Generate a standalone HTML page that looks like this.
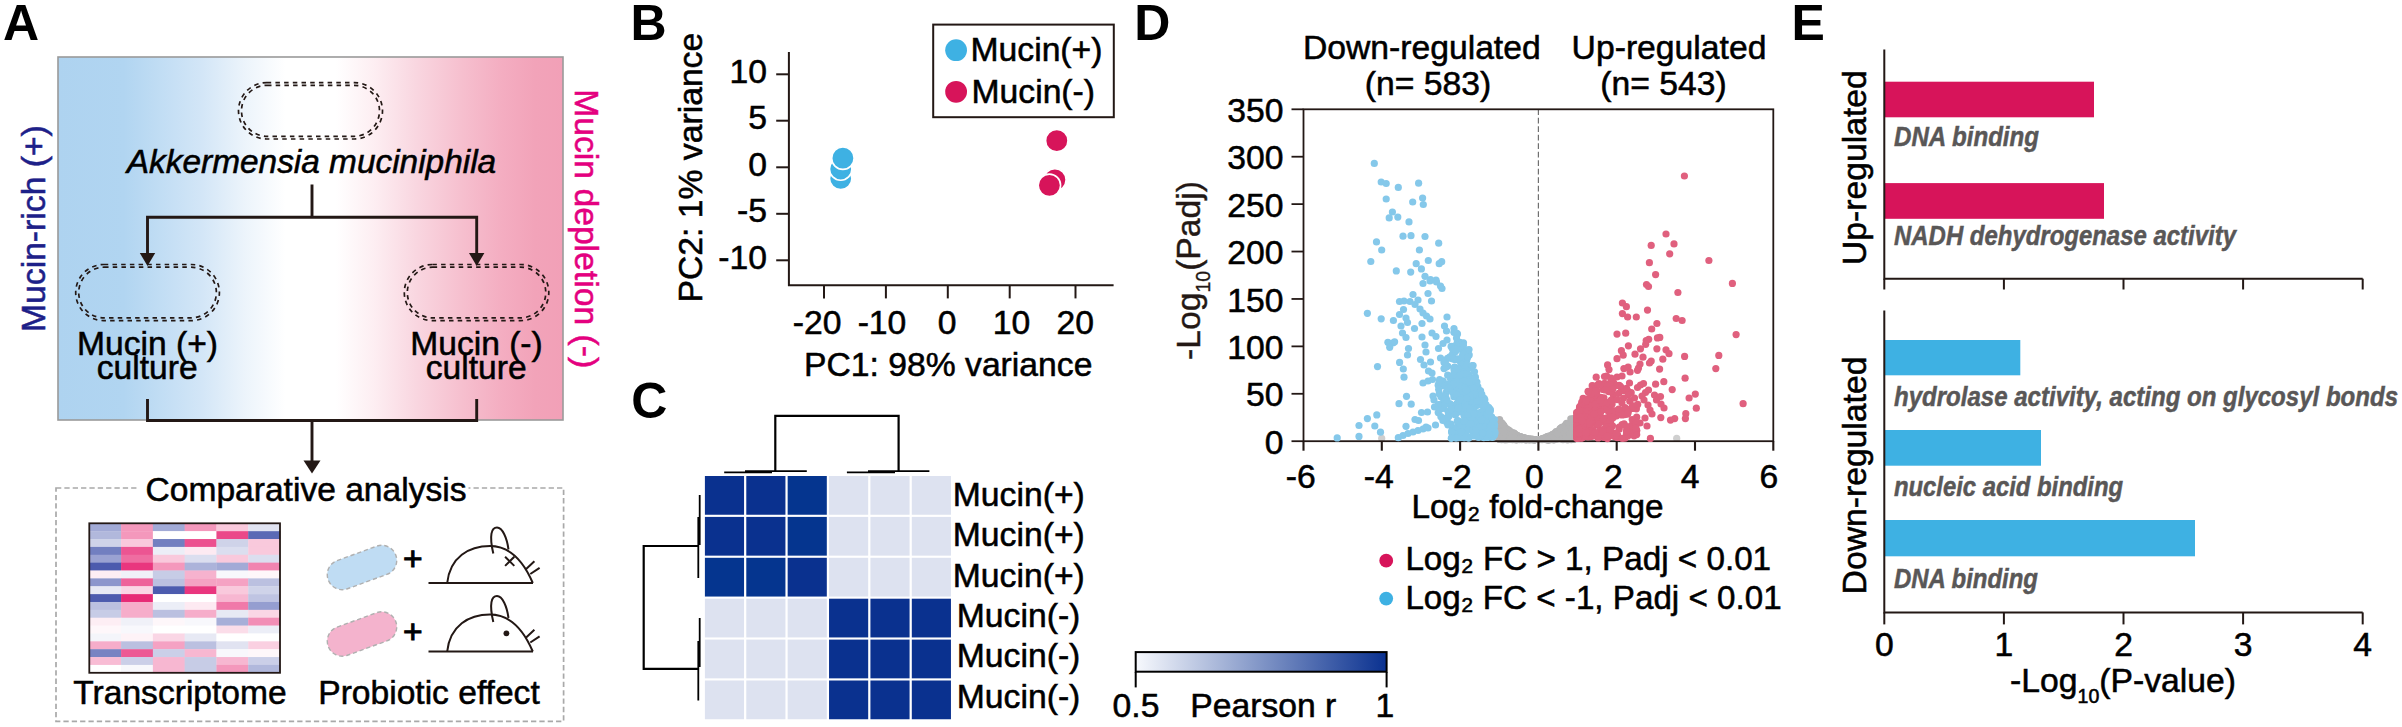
<!DOCTYPE html>
<html lang="en"><head><meta charset="utf-8"><title>Figure</title>
<style>
html,body{margin:0;padding:0;background:#fff;}
body{width:2402px;height:727px;overflow:hidden;}
svg{display:block;font-family:"Liberation Sans", sans-serif;}
</style></head><body>
<svg width="2402" height="727" viewBox="0 0 2402 727">
<defs>
<linearGradient id="gA" x1="0" x2="1" y1="0" y2="0">
<stop offset="0" stop-color="#aed3f0"/><stop offset="0.13" stop-color="#b1d5f1"/>
<stop offset="0.285" stop-color="#d3e6f7"/><stop offset="0.37" stop-color="#ecf4fb"/>
<stop offset="0.45" stop-color="#ffffff"/><stop offset="0.55" stop-color="#ffffff"/>
<stop offset="0.626" stop-color="#fdeef2"/><stop offset="0.71" stop-color="#f9d6e0"/>
<stop offset="0.797" stop-color="#f6c0cf"/><stop offset="0.88" stop-color="#f4adc1"/>
<stop offset="0.945" stop-color="#f2a3b9"/><stop offset="1" stop-color="#f2a0b7"/>
</linearGradient>
<linearGradient id="gC" x1="0" x2="1" y1="0" y2="0">
<stop offset="0" stop-color="#f7f9fd"/><stop offset="1" stop-color="#0a3190"/>
</linearGradient>
</defs>
<g id="panelA">
<text x="3" y="40.2" font-size="50" fill="#000" font-weight="bold">A</text>
<rect x="58" y="57" width="505" height="363" fill="url(#gA)" stroke="#9a9a9a" stroke-width="1.6"/>
<text x="45" y="332" font-size="33.7" fill="#1d2088" stroke="#1d2088" stroke-width="0.55" transform="rotate(-90 45 332)">Mucin-rich (+)</text>
<text x="575.2" y="89.2" font-size="33.7" fill="#e4007f" stroke="#e4007f" stroke-width="0.55" transform="rotate(90 575.2 89.2)">Mucin depletion (-)</text>
<path d="M266.7,82.6 H354.3 A28.200000000000003,28.200000000000003 0 0 1 354.3,139 H266.7 A28.200000000000003,28.200000000000003 0 0 1 266.7,82.6 Z" stroke="#231815" stroke-width="1.7" fill="none" stroke-dasharray="4.5 4.2"/>
<path d="M267.0,85.3 H354.0 A25.500000000000007,25.500000000000007 0 0 1 354.0,136.3 H267.0 A25.500000000000007,25.500000000000007 0 0 1 267.0,85.3 Z" stroke="#231815" stroke-width="1.7" fill="none" stroke-dasharray="4.5 4.2"/>
<path d="M103.75000000000001,264.5 H191.35 A28.05000000000001,28.05000000000001 0 0 1 191.35,320.6 H103.75000000000001 A28.05000000000001,28.05000000000001 0 0 1 103.75000000000001,264.5 Z" stroke="#231815" stroke-width="1.7" fill="none" stroke-dasharray="4.5 4.2"/>
<path d="M104.05000000000003,267.2 H191.04999999999998 A25.350000000000023,25.350000000000023 0 0 1 191.04999999999998,317.90000000000003 H104.05000000000003 A25.350000000000023,25.350000000000023 0 0 1 104.05000000000003,267.2 Z" stroke="#231815" stroke-width="1.7" fill="none" stroke-dasharray="4.5 4.2"/>
<path d="M432.35,264.5 H520.75 A28.05000000000001,28.05000000000001 0 0 1 520.75,320.6 H432.35 A28.05000000000001,28.05000000000001 0 0 1 432.35,264.5 Z" stroke="#231815" stroke-width="1.7" fill="none" stroke-dasharray="4.5 4.2"/>
<path d="M432.65000000000003,267.2 H520.4499999999999 A25.350000000000023,25.350000000000023 0 0 1 520.4499999999999,317.90000000000003 H432.65000000000003 A25.350000000000023,25.350000000000023 0 0 1 432.65000000000003,267.2 Z" stroke="#231815" stroke-width="1.7" fill="none" stroke-dasharray="4.5 4.2"/>
<text x="311.5" y="172.5" font-size="33.4" fill="#000" stroke="#000" stroke-width="0.55" text-anchor="middle" font-style="italic">Akkermensia muciniphila</text>
<path d="M312,184.5 V217.2 M147.5,254 V217.2 H476.7 V254" stroke="#231815" stroke-width="2.9" fill="none" />
<path d="M139.8,253 H155.2 L147.5,266 Z" fill="#231815"/>
<path d="M469,253 H484.4 L476.7,266 Z" fill="#231815"/>
<text x="147.5" y="354.7" font-size="33.6" fill="#000" stroke="#000" stroke-width="0.55" text-anchor="middle">Mucin (+)</text>
<text x="147.2" y="379.2" font-size="33.6" fill="#000" stroke="#000" stroke-width="0.55" text-anchor="middle">culture</text>
<text x="476.5" y="354.7" font-size="33.6" fill="#000" stroke="#000" stroke-width="0.55" text-anchor="middle">Mucin (-)</text>
<text x="476.2" y="379.2" font-size="33.6" fill="#000" stroke="#000" stroke-width="0.55" text-anchor="middle">culture</text>
<path d="M147.5,399 V420.5 H476.7 V399 M312,420.5 V462" stroke="#231815" stroke-width="2.9" fill="none" />
<path d="M303.5,460.5 H320.5 L312,473.5 Z" fill="#231815"/>
<rect x="56" y="488" width="507.6" height="233.3" fill="none" stroke="#a9a9a9" stroke-width="1.7" stroke-dasharray="5.3 3.05"/>
<rect x="137.5" y="480" width="331" height="16" fill="#fff"/>
<text x="306" y="501" font-size="33.6" fill="#000" stroke="#000" stroke-width="0.55" text-anchor="middle">Comparative analysis</text>
<rect x="89.30" y="523.30" width="32.08" height="8.17" fill="#a2aad6"/>
<rect x="121.08" y="523.30" width="32.08" height="8.17" fill="#f498bc"/>
<rect x="152.87" y="523.30" width="32.08" height="8.17" fill="#a2aad6"/>
<rect x="184.65" y="523.30" width="32.08" height="8.17" fill="#f498bc"/>
<rect x="216.43" y="523.30" width="32.08" height="8.17" fill="#f9c9dc"/>
<rect x="248.22" y="523.30" width="32.08" height="8.17" fill="#e1e3f1"/>
<rect x="89.30" y="531.17" width="32.08" height="8.17" fill="#b1b8dc"/>
<rect x="121.08" y="531.17" width="32.08" height="8.17" fill="#f498bc"/>
<rect x="152.87" y="531.17" width="32.08" height="8.17" fill="#ffffff"/>
<rect x="184.65" y="531.17" width="32.08" height="8.17" fill="#ffffff"/>
<rect x="216.43" y="531.17" width="32.08" height="8.17" fill="#eb4889"/>
<rect x="248.22" y="531.17" width="32.08" height="8.17" fill="#5b69b5"/>
<rect x="89.30" y="539.04" width="32.08" height="8.17" fill="#cfd3e9"/>
<rect x="121.08" y="539.04" width="32.08" height="8.17" fill="#f9c9dc"/>
<rect x="152.87" y="539.04" width="32.08" height="8.17" fill="#727fc0"/>
<rect x="184.65" y="539.04" width="32.08" height="8.17" fill="#ec508f"/>
<rect x="216.43" y="539.04" width="32.08" height="8.17" fill="#cfd3e9"/>
<rect x="248.22" y="539.04" width="32.08" height="8.17" fill="#f9c9dc"/>
<rect x="89.30" y="546.91" width="32.08" height="8.17" fill="#727fc0"/>
<rect x="121.08" y="546.91" width="32.08" height="8.17" fill="#ec5592"/>
<rect x="152.87" y="546.91" width="32.08" height="8.17" fill="#eceef7"/>
<rect x="184.65" y="546.91" width="32.08" height="8.17" fill="#fdeaf2"/>
<rect x="216.43" y="546.91" width="32.08" height="8.17" fill="#dbdeef"/>
<rect x="248.22" y="546.91" width="32.08" height="8.17" fill="#f9c9dc"/>
<rect x="89.30" y="554.77" width="32.08" height="8.17" fill="#9aa2d2"/>
<rect x="121.08" y="554.77" width="32.08" height="8.17" fill="#ef6da1"/>
<rect x="152.87" y="554.77" width="32.08" height="8.17" fill="#f9c9dc"/>
<rect x="184.65" y="554.77" width="32.08" height="8.17" fill="#dbdeef"/>
<rect x="216.43" y="554.77" width="32.08" height="8.17" fill="#f9c9dc"/>
<rect x="248.22" y="554.77" width="32.08" height="8.17" fill="#dbdeef"/>
<rect x="89.30" y="562.64" width="32.08" height="8.17" fill="#4c5bae"/>
<rect x="121.08" y="562.64" width="32.08" height="8.17" fill="#e9367e"/>
<rect x="152.87" y="562.64" width="32.08" height="8.17" fill="#f498bc"/>
<rect x="184.65" y="562.64" width="32.08" height="8.17" fill="#acb3da"/>
<rect x="216.43" y="562.64" width="32.08" height="8.17" fill="#a2aad6"/>
<rect x="248.22" y="562.64" width="32.08" height="8.17" fill="#f184b0"/>
<rect x="89.30" y="570.51" width="32.08" height="8.17" fill="#fdeef4"/>
<rect x="121.08" y="570.51" width="32.08" height="8.17" fill="#f0f1f8"/>
<rect x="152.87" y="570.51" width="32.08" height="8.17" fill="#c7cce6"/>
<rect x="184.65" y="570.51" width="32.08" height="8.17" fill="#f6b2ce"/>
<rect x="216.43" y="570.51" width="32.08" height="8.17" fill="#f8f8fc"/>
<rect x="248.22" y="570.51" width="32.08" height="8.17" fill="#fef7fa"/>
<rect x="89.30" y="578.38" width="32.08" height="8.17" fill="#8c96cc"/>
<rect x="121.08" y="578.38" width="32.08" height="8.17" fill="#ee629a"/>
<rect x="152.87" y="578.38" width="32.08" height="8.17" fill="#bbc0e0"/>
<rect x="184.65" y="578.38" width="32.08" height="8.17" fill="#f5a2c3"/>
<rect x="216.43" y="578.38" width="32.08" height="8.17" fill="#f5a2c3"/>
<rect x="248.22" y="578.38" width="32.08" height="8.17" fill="#bbc0e0"/>
<rect x="89.30" y="586.25" width="32.08" height="8.17" fill="#e7e9f4"/>
<rect x="121.08" y="586.25" width="32.08" height="8.17" fill="#fad6e5"/>
<rect x="152.87" y="586.25" width="32.08" height="8.17" fill="#4c5bae"/>
<rect x="184.65" y="586.25" width="32.08" height="8.17" fill="#e9367e"/>
<rect x="216.43" y="586.25" width="32.08" height="8.17" fill="#f9c9dc"/>
<rect x="248.22" y="586.25" width="32.08" height="8.17" fill="#cfd3e9"/>
<rect x="89.30" y="594.12" width="32.08" height="8.17" fill="#4c5bae"/>
<rect x="121.08" y="594.12" width="32.08" height="8.17" fill="#e72a76"/>
<rect x="152.87" y="594.12" width="32.08" height="8.17" fill="#ffffff"/>
<rect x="184.65" y="594.12" width="32.08" height="8.17" fill="#ffffff"/>
<rect x="216.43" y="594.12" width="32.08" height="8.17" fill="#f7b7d1"/>
<rect x="248.22" y="594.12" width="32.08" height="8.17" fill="#bfc4e2"/>
<rect x="89.30" y="601.98" width="32.08" height="8.17" fill="#bbc0e0"/>
<rect x="121.08" y="601.98" width="32.08" height="8.17" fill="#f6adca"/>
<rect x="152.87" y="601.98" width="32.08" height="8.17" fill="#eceef7"/>
<rect x="184.65" y="601.98" width="32.08" height="8.17" fill="#fdeaf2"/>
<rect x="216.43" y="601.98" width="32.08" height="8.17" fill="#f079a9"/>
<rect x="248.22" y="601.98" width="32.08" height="8.17" fill="#959ed0"/>
<rect x="89.30" y="609.85" width="32.08" height="8.17" fill="#c7cce6"/>
<rect x="121.08" y="609.85" width="32.08" height="8.17" fill="#f6adca"/>
<rect x="152.87" y="609.85" width="32.08" height="8.17" fill="#bbc0e0"/>
<rect x="184.65" y="609.85" width="32.08" height="8.17" fill="#f6adca"/>
<rect x="216.43" y="609.85" width="32.08" height="8.17" fill="#e7e9f4"/>
<rect x="248.22" y="609.85" width="32.08" height="8.17" fill="#fad6e5"/>
<rect x="89.30" y="617.72" width="32.08" height="8.17" fill="#fdeef4"/>
<rect x="121.08" y="617.72" width="32.08" height="8.17" fill="#f0f1f8"/>
<rect x="152.87" y="617.72" width="32.08" height="8.17" fill="#fef7fa"/>
<rect x="184.65" y="617.72" width="32.08" height="8.17" fill="#f8f8fc"/>
<rect x="216.43" y="617.72" width="32.08" height="8.17" fill="#a7afd8"/>
<rect x="248.22" y="617.72" width="32.08" height="8.17" fill="#f28eb6"/>
<rect x="89.30" y="625.59" width="32.08" height="8.17" fill="#fef7fa"/>
<rect x="121.08" y="625.59" width="32.08" height="8.17" fill="#f8f8fc"/>
<rect x="152.87" y="625.59" width="32.08" height="8.17" fill="#ffffff"/>
<rect x="184.65" y="625.59" width="32.08" height="8.17" fill="#ffffff"/>
<rect x="216.43" y="625.59" width="32.08" height="8.17" fill="#fbdde9"/>
<rect x="248.22" y="625.59" width="32.08" height="8.17" fill="#eceef7"/>
<rect x="89.30" y="633.46" width="32.08" height="8.17" fill="#f4f5fa"/>
<rect x="121.08" y="633.46" width="32.08" height="8.17" fill="#fef3f7"/>
<rect x="152.87" y="633.46" width="32.08" height="8.17" fill="#fad6e5"/>
<rect x="184.65" y="633.46" width="32.08" height="8.17" fill="#e7e9f4"/>
<rect x="216.43" y="633.46" width="32.08" height="8.17" fill="#ffffff"/>
<rect x="248.22" y="633.46" width="32.08" height="8.17" fill="#ffffff"/>
<rect x="89.30" y="641.33" width="32.08" height="8.17" fill="#f6adca"/>
<rect x="121.08" y="641.33" width="32.08" height="8.17" fill="#bbc0e0"/>
<rect x="152.87" y="641.33" width="32.08" height="8.17" fill="#f5a2c3"/>
<rect x="184.65" y="641.33" width="32.08" height="8.17" fill="#bbc0e0"/>
<rect x="216.43" y="641.33" width="32.08" height="8.17" fill="#e1e3f1"/>
<rect x="248.22" y="641.33" width="32.08" height="8.17" fill="#fad0e1"/>
<rect x="89.30" y="649.19" width="32.08" height="8.17" fill="#7883c2"/>
<rect x="121.08" y="649.19" width="32.08" height="8.17" fill="#ed5994"/>
<rect x="152.87" y="649.19" width="32.08" height="8.17" fill="#cbcfe8"/>
<rect x="184.65" y="649.19" width="32.08" height="8.17" fill="#f7b7d1"/>
<rect x="216.43" y="649.19" width="32.08" height="8.17" fill="#f8f8fc"/>
<rect x="248.22" y="649.19" width="32.08" height="8.17" fill="#fef7fa"/>
<rect x="89.30" y="657.06" width="32.08" height="8.17" fill="#f8bcd4"/>
<rect x="121.08" y="657.06" width="32.08" height="8.17" fill="#cbcfe8"/>
<rect x="152.87" y="657.06" width="32.08" height="8.17" fill="#f7b7d1"/>
<rect x="184.65" y="657.06" width="32.08" height="8.17" fill="#c7cce6"/>
<rect x="216.43" y="657.06" width="32.08" height="8.17" fill="#f7b7d1"/>
<rect x="248.22" y="657.06" width="32.08" height="8.17" fill="#cbcfe8"/>
<rect x="89.30" y="664.93" width="32.08" height="8.17" fill="#ffffff"/>
<rect x="121.08" y="664.93" width="32.08" height="8.17" fill="#f8f8fc"/>
<rect x="152.87" y="664.93" width="32.08" height="8.17" fill="#f7b7d1"/>
<rect x="184.65" y="664.93" width="32.08" height="8.17" fill="#c7cce6"/>
<rect x="216.43" y="664.93" width="32.08" height="8.17" fill="#f498bc"/>
<rect x="248.22" y="664.93" width="32.08" height="8.17" fill="#b1b8dc"/>
<rect x="89.3" y="523.3" width="190.70" height="149.50" fill="none" stroke="#231815" stroke-width="1.8"/>
<text x="180" y="704.3" font-size="33.6" fill="#000" stroke="#000" stroke-width="0.55" text-anchor="middle">Transcriptome</text>
<text x="429" y="704.3" font-size="33.6" fill="#000" stroke="#000" stroke-width="0.55" text-anchor="middle">Probiotic effect</text>
<g transform="translate(362 567.5) rotate(-20)"><path d="M-21.0,-15 H21.0 A15.0,15.0 0 0 1 21.0,15 H-21.0 A15.0,15.0 0 0 1 -21.0,-15 Z" fill="#bfdcf3" stroke="#b0b0b0" stroke-width="1.4" stroke-dasharray="4.3 2.8"/></g>
<g transform="translate(362 634) rotate(-20)"><path d="M-21.0,-15 H21.0 A15.0,15.0 0 0 1 21.0,15 H-21.0 A15.0,15.0 0 0 1 -21.0,-15 Z" fill="#f4b3cd" stroke="#b0b0b0" stroke-width="1.4" stroke-dasharray="4.3 2.8"/></g>
<text x="412.9" y="570.2" font-size="33.6" fill="#000" stroke="#000" stroke-width="1.0" text-anchor="middle">+</text>
<text x="412.9" y="643" font-size="33.6" fill="#000" stroke="#000" stroke-width="1.0" text-anchor="middle">+</text>
<g transform="translate(429 583)" fill="none" stroke="#231815" stroke-width="2" stroke-linecap="butt"><path d="M-0.5,0 H104"/><path d="M18.2,0 C21,-26 40,-37 61,-37 C80,-37 94,-23 103.8,0"/><path d="M64.3,-29.5 C60,-48 62.5,-55.5 68,-55.5 C73.5,-55.5 78,-45 79.5,-33.5"/><path d="M96.6,-13.5 L105.4,-21.7 M101.3,-9 L110.6,-15.2"/><path d="M76.1,-26.3 L85.3,-17.1 M85.3,-26.3 L76.1,-17.1"/></g>
<g transform="translate(429 651.5)" fill="none" stroke="#231815" stroke-width="2" stroke-linecap="butt"><path d="M-0.5,0 H104"/><path d="M18.2,0 C21,-26 40,-37 61,-37 C80,-37 94,-23 103.8,0"/><path d="M64.3,-29.5 C60,-48 62.5,-55.5 68,-55.5 C73.5,-55.5 78,-45 79.5,-33.5"/><path d="M96.6,-13.5 L105.4,-21.7 M101.3,-9 L110.6,-15.2"/><circle cx="77.4" cy="-18.2" r="2.9" fill="#231815" stroke="none"/></g>
</g>
<g id="panelB">
<text x="630.5" y="40" font-size="50" fill="#000" font-weight="bold">B</text>
<path d="M788.9,52 V285.2 H1113.6" stroke="#231815" stroke-width="2" fill="none" />
<line x1="776.2" y1="74.3" x2="789" y2="74.3" stroke="#231815" stroke-width="2" />
<text x="767" y="82.6" font-size="33.7" fill="#000" stroke="#000" stroke-width="0.55" text-anchor="end">10</text>
<line x1="776.2" y1="120.7" x2="789" y2="120.7" stroke="#231815" stroke-width="2" />
<text x="767" y="129.0" font-size="33.7" fill="#000" stroke="#000" stroke-width="0.55" text-anchor="end">5</text>
<line x1="776.2" y1="167.3" x2="789" y2="167.3" stroke="#231815" stroke-width="2" />
<text x="767" y="175.60000000000002" font-size="33.7" fill="#000" stroke="#000" stroke-width="0.55" text-anchor="end">0</text>
<line x1="776.2" y1="213.8" x2="789" y2="213.8" stroke="#231815" stroke-width="2" />
<text x="767" y="222.10000000000002" font-size="33.7" fill="#000" stroke="#000" stroke-width="0.55" text-anchor="end">-5</text>
<line x1="776.2" y1="260.3" x2="789" y2="260.3" stroke="#231815" stroke-width="2" />
<text x="767" y="268.6" font-size="33.7" fill="#000" stroke="#000" stroke-width="0.55" text-anchor="end">-10</text>
<line x1="824" y1="285.2" x2="824" y2="298.4" stroke="#231815" stroke-width="2" />
<text x="817.2" y="333.7" font-size="33.7" fill="#000" stroke="#000" stroke-width="0.55" text-anchor="middle">-20</text>
<line x1="885.9" y1="285.2" x2="885.9" y2="298.4" stroke="#231815" stroke-width="2" />
<text x="882" y="333.7" font-size="33.7" fill="#000" stroke="#000" stroke-width="0.55" text-anchor="middle">-10</text>
<line x1="947.8" y1="285.2" x2="947.8" y2="298.4" stroke="#231815" stroke-width="2" />
<text x="947" y="333.7" font-size="33.7" fill="#000" stroke="#000" stroke-width="0.55" text-anchor="middle">0</text>
<line x1="1009.7" y1="285.2" x2="1009.7" y2="298.4" stroke="#231815" stroke-width="2" />
<text x="1011.4" y="333.7" font-size="33.7" fill="#000" stroke="#000" stroke-width="0.55" text-anchor="middle">10</text>
<line x1="1075.5" y1="285.2" x2="1075.5" y2="298.4" stroke="#231815" stroke-width="2" />
<text x="1075.2" y="333.7" font-size="33.7" fill="#000" stroke="#000" stroke-width="0.55" text-anchor="middle">20</text>
<text x="948.2" y="375.7" font-size="33.7" fill="#000" stroke="#000" stroke-width="0.55" text-anchor="middle">PC1: 98% variance</text>
<text x="701.8" y="167.6" font-size="33.7" fill="#000" stroke="#000" stroke-width="0.55" text-anchor="middle" transform="rotate(-90 701.8 167.6)">PC2: 1% variance</text>
<circle cx="840.7" cy="178.4" r="11.2" fill="#3eb1e3" stroke="#fff" stroke-width="1.6"/>
<circle cx="840.7" cy="169" r="11.2" fill="#3eb1e3" stroke="#fff" stroke-width="1.6"/>
<circle cx="842.9" cy="158.2" r="11.2" fill="#3eb1e3" stroke="#fff" stroke-width="1.6"/>
<circle cx="1054.9" cy="179.8" r="11.2" fill="#d7145a" stroke="#fff" stroke-width="1.6"/>
<circle cx="1049.4" cy="185.3" r="11.2" fill="#d7145a" stroke="#fff" stroke-width="1.6"/>
<circle cx="1056.8" cy="140.7" r="11.2" fill="#d7145a" stroke="#fff" stroke-width="1.6"/>
<rect x="933.2" y="24.6" width="180.6" height="92.6" fill="#fff" stroke="#231815" stroke-width="2"/>
<circle cx="956.1" cy="50.2" r="10.9" fill="#3eb1e3"/>
<circle cx="956.1" cy="91.8" r="10.9" fill="#d7145a"/>
<text x="970.5" y="60.5" font-size="33.7" fill="#000" stroke="#000" stroke-width="0.55">Mucin(+)</text>
<text x="971.5" y="102.5" font-size="33.7" fill="#000" stroke="#000" stroke-width="0.55">Mucin(-)</text>
</g>
<g id="panelC">
<text x="631.3" y="418.2" font-size="50" fill="#000" font-weight="bold">C</text>
<rect x="704.90" y="476.00" width="39.15" height="38.75" fill="#0a318f"/>
<rect x="746.28" y="476.00" width="39.15" height="38.75" fill="#0a318f"/>
<rect x="787.66" y="476.00" width="39.15" height="38.75" fill="#05358f"/>
<rect x="829.04" y="476.00" width="39.15" height="38.75" fill="#dde2f0"/>
<rect x="870.42" y="476.00" width="39.15" height="38.75" fill="#dde2f0"/>
<rect x="911.80" y="476.00" width="39.15" height="38.75" fill="#dde2f0"/>
<rect x="704.90" y="516.90" width="39.15" height="38.75" fill="#0a318f"/>
<rect x="746.28" y="516.90" width="39.15" height="38.75" fill="#0a318f"/>
<rect x="787.66" y="516.90" width="39.15" height="38.75" fill="#05358f"/>
<rect x="829.04" y="516.90" width="39.15" height="38.75" fill="#dde2f0"/>
<rect x="870.42" y="516.90" width="39.15" height="38.75" fill="#dde2f0"/>
<rect x="911.80" y="516.90" width="39.15" height="38.75" fill="#dde2f0"/>
<rect x="704.90" y="557.80" width="39.15" height="38.75" fill="#05358f"/>
<rect x="746.28" y="557.80" width="39.15" height="38.75" fill="#05358f"/>
<rect x="787.66" y="557.80" width="39.15" height="38.75" fill="#0a318f"/>
<rect x="829.04" y="557.80" width="39.15" height="38.75" fill="#dde2f0"/>
<rect x="870.42" y="557.80" width="39.15" height="38.75" fill="#dde2f0"/>
<rect x="911.80" y="557.80" width="39.15" height="38.75" fill="#dde2f0"/>
<rect x="704.90" y="598.70" width="39.15" height="38.75" fill="#dde2f0"/>
<rect x="746.28" y="598.70" width="39.15" height="38.75" fill="#dde2f0"/>
<rect x="787.66" y="598.70" width="39.15" height="38.75" fill="#dde2f0"/>
<rect x="829.04" y="598.70" width="39.15" height="38.75" fill="#0a318f"/>
<rect x="870.42" y="598.70" width="39.15" height="38.75" fill="#0a318f"/>
<rect x="911.80" y="598.70" width="39.15" height="38.75" fill="#0a318f"/>
<rect x="704.90" y="639.60" width="39.15" height="38.75" fill="#dde2f0"/>
<rect x="746.28" y="639.60" width="39.15" height="38.75" fill="#dde2f0"/>
<rect x="787.66" y="639.60" width="39.15" height="38.75" fill="#dde2f0"/>
<rect x="829.04" y="639.60" width="39.15" height="38.75" fill="#0a318f"/>
<rect x="870.42" y="639.60" width="39.15" height="38.75" fill="#0a318f"/>
<rect x="911.80" y="639.60" width="39.15" height="38.75" fill="#0a318f"/>
<rect x="704.90" y="680.50" width="39.15" height="38.75" fill="#dde2f0"/>
<rect x="746.28" y="680.50" width="39.15" height="38.75" fill="#dde2f0"/>
<rect x="787.66" y="680.50" width="39.15" height="38.75" fill="#dde2f0"/>
<rect x="829.04" y="680.50" width="39.15" height="38.75" fill="#0a318f"/>
<rect x="870.42" y="680.50" width="39.15" height="38.75" fill="#0a318f"/>
<rect x="911.80" y="680.50" width="39.15" height="38.75" fill="#0a318f"/>
<text x="952.8" y="505.6" font-size="33.7" fill="#000" stroke="#000" stroke-width="0.55">Mucin(+)</text>
<text x="952.8" y="546.0500000000001" font-size="33.7" fill="#000" stroke="#000" stroke-width="0.55">Mucin(+)</text>
<text x="952.8" y="586.5" font-size="33.7" fill="#000" stroke="#000" stroke-width="0.55">Mucin(+)</text>
<text x="956.8" y="626.95" font-size="33.7" fill="#000" stroke="#000" stroke-width="0.55">Mucin(-)</text>
<text x="956.8" y="667.4000000000001" font-size="33.7" fill="#000" stroke="#000" stroke-width="0.55">Mucin(-)</text>
<text x="956.8" y="707.85" font-size="33.7" fill="#000" stroke="#000" stroke-width="0.55">Mucin(-)</text>
<path d="M775.3,471 V415.9 H898.6 V471" stroke="#000" stroke-width="2.2" fill="none" />
<path d="M724.2,472.4 H772 M745,471.1 H806.8" stroke="#000" stroke-width="1.8" fill="none" />
<path d="M846.9,472.4 H895 M868,471.1 H929.4" stroke="#000" stroke-width="1.8" fill="none" />
<path d="M699,546 H643.7 V668.8 H699" stroke="#000" stroke-width="2.2" fill="none" />
<path d="M699.7,495 V545 M698.3,517 V578" stroke="#000" stroke-width="1.8" fill="none" />
<path d="M699.7,618 V667 M698.3,641 V700.5" stroke="#000" stroke-width="1.8" fill="none" />
<rect x="1135.7" y="652.1" width="250.9" height="19.6" fill="url(#gC)" stroke="#000" stroke-width="2"/>
<line x1="1135.7" y1="672" x2="1135.7" y2="687.4" stroke="#000" stroke-width="2" />
<line x1="1386.6" y1="672" x2="1386.6" y2="687.4" stroke="#000" stroke-width="2" />
<text x="1136" y="717.4" font-size="33.7" fill="#000" stroke="#000" stroke-width="0.55" text-anchor="middle">0.5</text>
<text x="1263.3" y="717.4" font-size="33.7" fill="#000" stroke="#000" stroke-width="0.55" text-anchor="middle">Pearson r</text>
<text x="1384.8" y="717.4" font-size="33.7" fill="#000" stroke="#000" stroke-width="0.55" text-anchor="middle">1</text>
</g>
<g id="panelD">
<text x="1134.3" y="40" font-size="50" fill="#000" font-weight="bold">D</text>
<text x="1421.8" y="58.6" font-size="33.7" fill="#000" stroke="#000" stroke-width="0.55" text-anchor="middle">Down-regulated</text>
<text x="1428" y="94.7" font-size="33.7" fill="#000" stroke="#000" stroke-width="0.55" text-anchor="middle">(n= 583)</text>
<text x="1669" y="58.6" font-size="33.7" fill="#000" stroke="#000" stroke-width="0.55" text-anchor="middle">Up-regulated</text>
<text x="1663.5" y="94.7" font-size="33.7" fill="#000" stroke="#000" stroke-width="0.55" text-anchor="middle">(n= 543)</text>
<g>
<circle cx="1509.7" cy="439.2" r="3.6" fill="#b4b4b5"/>
<circle cx="1511.2" cy="436.8" r="3.6" fill="#b4b4b5"/>
<circle cx="1511.1" cy="437.1" r="3.6" fill="#b4b4b5"/>
<circle cx="1548.1" cy="437.5" r="3.6" fill="#b4b4b5"/>
<circle cx="1503.2" cy="435.5" r="3.6" fill="#b4b4b5"/>
<circle cx="1499.3" cy="439.2" r="3.6" fill="#b4b4b5"/>
<circle cx="1565.6" cy="427.5" r="3.6" fill="#b4b4b5"/>
<circle cx="1510.6" cy="431.6" r="3.6" fill="#b4b4b5"/>
<circle cx="1520.3" cy="436.7" r="3.6" fill="#b4b4b5"/>
<circle cx="1513.2" cy="438.9" r="3.6" fill="#b4b4b5"/>
<circle cx="1566.2" cy="432.7" r="3.6" fill="#b4b4b5"/>
<circle cx="1561.5" cy="431.8" r="3.6" fill="#b4b4b5"/>
<circle cx="1573.8" cy="436.9" r="3.6" fill="#b4b4b5"/>
<circle cx="1557.2" cy="433.3" r="3.6" fill="#b4b4b5"/>
<circle cx="1529.2" cy="439.6" r="3.6" fill="#b4b4b5"/>
<circle cx="1502.4" cy="430.3" r="3.6" fill="#b4b4b5"/>
<circle cx="1570.8" cy="418.9" r="3.6" fill="#b4b4b5"/>
<circle cx="1500.9" cy="431.0" r="3.6" fill="#b4b4b5"/>
<circle cx="1559.8" cy="430.0" r="3.6" fill="#b4b4b5"/>
<circle cx="1569.3" cy="427.0" r="3.6" fill="#b4b4b5"/>
<circle cx="1516.8" cy="439.7" r="3.6" fill="#b4b4b5"/>
<circle cx="1549.4" cy="437.0" r="3.6" fill="#b4b4b5"/>
<circle cx="1530.0" cy="439.7" r="3.6" fill="#b4b4b5"/>
<circle cx="1509.7" cy="435.2" r="3.6" fill="#b4b4b5"/>
<circle cx="1505.1" cy="428.1" r="3.6" fill="#b4b4b5"/>
<circle cx="1549.3" cy="437.7" r="3.6" fill="#b4b4b5"/>
<circle cx="1519.2" cy="439.7" r="3.6" fill="#b4b4b5"/>
<circle cx="1556.8" cy="438.9" r="3.6" fill="#b4b4b5"/>
<circle cx="1514.7" cy="439.1" r="3.6" fill="#b4b4b5"/>
<circle cx="1548.4" cy="439.8" r="3.6" fill="#b4b4b5"/>
<circle cx="1519.6" cy="439.2" r="3.6" fill="#b4b4b5"/>
<circle cx="1518.2" cy="436.3" r="3.6" fill="#b4b4b5"/>
<circle cx="1509.1" cy="432.9" r="3.6" fill="#b4b4b5"/>
<circle cx="1559.0" cy="434.8" r="3.6" fill="#b4b4b5"/>
<circle cx="1562.2" cy="435.2" r="3.6" fill="#b4b4b5"/>
<circle cx="1552.3" cy="435.2" r="3.6" fill="#b4b4b5"/>
<circle cx="1570.2" cy="426.0" r="3.6" fill="#b4b4b5"/>
<circle cx="1504.9" cy="439.1" r="3.6" fill="#b4b4b5"/>
<circle cx="1500.0" cy="437.9" r="3.6" fill="#b4b4b5"/>
<circle cx="1560.5" cy="430.0" r="3.6" fill="#b4b4b5"/>
<circle cx="1499.7" cy="425.8" r="3.6" fill="#b4b4b5"/>
<circle cx="1555.2" cy="438.6" r="3.6" fill="#b4b4b5"/>
<circle cx="1556.5" cy="433.1" r="3.6" fill="#b4b4b5"/>
<circle cx="1546.5" cy="437.6" r="3.6" fill="#b4b4b5"/>
<circle cx="1570.9" cy="433.0" r="3.6" fill="#b4b4b5"/>
<circle cx="1500.7" cy="425.8" r="3.6" fill="#b4b4b5"/>
<circle cx="1519.2" cy="438.1" r="3.6" fill="#b4b4b5"/>
<circle cx="1523.2" cy="438.5" r="3.6" fill="#b4b4b5"/>
<circle cx="1550.0" cy="437.3" r="3.6" fill="#b4b4b5"/>
<circle cx="1573.5" cy="433.5" r="3.6" fill="#b4b4b5"/>
<circle cx="1564.8" cy="427.7" r="3.6" fill="#b4b4b5"/>
<circle cx="1534.1" cy="439.8" r="3.6" fill="#b4b4b5"/>
<circle cx="1573.2" cy="418.8" r="3.6" fill="#b4b4b5"/>
<circle cx="1562.2" cy="436.9" r="3.6" fill="#b4b4b5"/>
<circle cx="1498.9" cy="421.2" r="3.6" fill="#b4b4b5"/>
<circle cx="1568.4" cy="438.3" r="3.6" fill="#b4b4b5"/>
<circle cx="1567.7" cy="436.7" r="3.6" fill="#b4b4b5"/>
<circle cx="1558.4" cy="437.1" r="3.6" fill="#b4b4b5"/>
<circle cx="1571.3" cy="429.1" r="3.6" fill="#b4b4b5"/>
<circle cx="1571.1" cy="432.2" r="3.6" fill="#b4b4b5"/>
<circle cx="1559.3" cy="436.0" r="3.6" fill="#b4b4b5"/>
<circle cx="1547.3" cy="438.8" r="3.6" fill="#b4b4b5"/>
<circle cx="1571.5" cy="435.0" r="3.6" fill="#b4b4b5"/>
<circle cx="1505.1" cy="434.6" r="3.6" fill="#b4b4b5"/>
<circle cx="1502.6" cy="424.6" r="3.6" fill="#b4b4b5"/>
<circle cx="1543.5" cy="439.1" r="3.6" fill="#b4b4b5"/>
<circle cx="1520.8" cy="439.0" r="3.6" fill="#b4b4b5"/>
<circle cx="1508.2" cy="439.1" r="3.6" fill="#b4b4b5"/>
<circle cx="1535.0" cy="439.6" r="3.6" fill="#b4b4b5"/>
<circle cx="1553.2" cy="434.8" r="3.6" fill="#b4b4b5"/>
<circle cx="1566.6" cy="431.6" r="3.6" fill="#b4b4b5"/>
<circle cx="1557.6" cy="437.1" r="3.6" fill="#b4b4b5"/>
<circle cx="1513.5" cy="438.7" r="3.6" fill="#b4b4b5"/>
<circle cx="1571.5" cy="428.4" r="3.6" fill="#b4b4b5"/>
<circle cx="1557.3" cy="432.3" r="3.6" fill="#b4b4b5"/>
<circle cx="1502.6" cy="437.6" r="3.6" fill="#b4b4b5"/>
<circle cx="1572.9" cy="425.7" r="3.6" fill="#b4b4b5"/>
<circle cx="1512.9" cy="435.0" r="3.6" fill="#b4b4b5"/>
<circle cx="1514.1" cy="437.7" r="3.6" fill="#b4b4b5"/>
<circle cx="1517.5" cy="439.2" r="3.6" fill="#b4b4b5"/>
<circle cx="1561.4" cy="429.0" r="3.6" fill="#b4b4b5"/>
<circle cx="1501.7" cy="422.8" r="3.6" fill="#b4b4b5"/>
<circle cx="1564.5" cy="430.7" r="3.6" fill="#b4b4b5"/>
<circle cx="1542.4" cy="438.6" r="3.6" fill="#b4b4b5"/>
<circle cx="1533.2" cy="439.7" r="3.6" fill="#b4b4b5"/>
<circle cx="1525.0" cy="438.1" r="3.6" fill="#b4b4b5"/>
<circle cx="1561.2" cy="436.0" r="3.6" fill="#b4b4b5"/>
<circle cx="1570.0" cy="439.1" r="3.6" fill="#b4b4b5"/>
<circle cx="1553.0" cy="436.9" r="3.6" fill="#b4b4b5"/>
<circle cx="1535.1" cy="439.7" r="3.6" fill="#b4b4b5"/>
<circle cx="1552.2" cy="436.0" r="3.6" fill="#b4b4b5"/>
<circle cx="1506.0" cy="434.3" r="3.6" fill="#b4b4b5"/>
<circle cx="1568.8" cy="429.7" r="3.6" fill="#b4b4b5"/>
<circle cx="1572.0" cy="421.3" r="3.6" fill="#b4b4b5"/>
<circle cx="1568.1" cy="424.9" r="3.6" fill="#b4b4b5"/>
<circle cx="1507.9" cy="439.0" r="3.6" fill="#b4b4b5"/>
<circle cx="1509.4" cy="438.8" r="3.6" fill="#b4b4b5"/>
<circle cx="1572.8" cy="429.8" r="3.6" fill="#b4b4b5"/>
<circle cx="1553.2" cy="438.3" r="3.6" fill="#b4b4b5"/>
<circle cx="1566.2" cy="435.9" r="3.6" fill="#b4b4b5"/>
<circle cx="1501.1" cy="439.5" r="3.6" fill="#b4b4b5"/>
<circle cx="1563.6" cy="437.4" r="3.6" fill="#b4b4b5"/>
<circle cx="1500.9" cy="437.5" r="3.6" fill="#b4b4b5"/>
<circle cx="1528.4" cy="439.4" r="3.6" fill="#b4b4b5"/>
<circle cx="1569.1" cy="431.3" r="3.6" fill="#b4b4b5"/>
<circle cx="1503.2" cy="424.9" r="3.6" fill="#b4b4b5"/>
<circle cx="1551.9" cy="436.5" r="3.6" fill="#b4b4b5"/>
<circle cx="1550.5" cy="436.2" r="3.6" fill="#b4b4b5"/>
<circle cx="1568.1" cy="437.4" r="3.6" fill="#b4b4b5"/>
<circle cx="1572.8" cy="430.3" r="3.6" fill="#b4b4b5"/>
<circle cx="1547.6" cy="437.3" r="3.6" fill="#b4b4b5"/>
<circle cx="1556.4" cy="437.8" r="3.6" fill="#b4b4b5"/>
<circle cx="1563.2" cy="438.1" r="3.6" fill="#b4b4b5"/>
<circle cx="1557.1" cy="434.8" r="3.6" fill="#b4b4b5"/>
<circle cx="1571.9" cy="424.4" r="3.6" fill="#b4b4b5"/>
<circle cx="1573.3" cy="430.9" r="3.6" fill="#b4b4b5"/>
<circle cx="1553.1" cy="437.2" r="3.6" fill="#b4b4b5"/>
<circle cx="1565.3" cy="425.0" r="3.6" fill="#b4b4b5"/>
<circle cx="1563.1" cy="432.8" r="3.6" fill="#b4b4b5"/>
<circle cx="1564.3" cy="433.4" r="3.6" fill="#b4b4b5"/>
<circle cx="1546.4" cy="438.6" r="3.6" fill="#b4b4b5"/>
<circle cx="1499.8" cy="438.5" r="3.6" fill="#b4b4b5"/>
<circle cx="1512.2" cy="433.3" r="3.6" fill="#b4b4b5"/>
<circle cx="1503.1" cy="438.4" r="3.6" fill="#b4b4b5"/>
<circle cx="1517.4" cy="436.5" r="3.6" fill="#b4b4b5"/>
<circle cx="1572.4" cy="422.3" r="3.6" fill="#b4b4b5"/>
<circle cx="1542.8" cy="438.6" r="3.6" fill="#b4b4b5"/>
<circle cx="1506.3" cy="432.0" r="3.6" fill="#b4b4b5"/>
<circle cx="1508.0" cy="430.6" r="3.6" fill="#b4b4b5"/>
<circle cx="1549.6" cy="438.0" r="3.6" fill="#b4b4b5"/>
<circle cx="1522.2" cy="438.7" r="3.6" fill="#b4b4b5"/>
<circle cx="1515.3" cy="436.8" r="3.6" fill="#b4b4b5"/>
<circle cx="1551.3" cy="436.0" r="3.6" fill="#b4b4b5"/>
<circle cx="1566.1" cy="433.2" r="3.6" fill="#b4b4b5"/>
<circle cx="1565.5" cy="438.0" r="3.6" fill="#b4b4b5"/>
<circle cx="1504.9" cy="437.5" r="3.6" fill="#b4b4b5"/>
<circle cx="1557.2" cy="434.1" r="3.6" fill="#b4b4b5"/>
<circle cx="1553.8" cy="439.8" r="3.6" fill="#b4b4b5"/>
<circle cx="1550.1" cy="436.7" r="3.6" fill="#b4b4b5"/>
<circle cx="1555.3" cy="433.0" r="3.6" fill="#b4b4b5"/>
<circle cx="1560.5" cy="437.8" r="3.6" fill="#b4b4b5"/>
<circle cx="1514.4" cy="438.1" r="3.6" fill="#b4b4b5"/>
<circle cx="1522.1" cy="439.1" r="3.6" fill="#b4b4b5"/>
<circle cx="1573.3" cy="421.6" r="3.6" fill="#b4b4b5"/>
<circle cx="1568.9" cy="431.6" r="3.6" fill="#b4b4b5"/>
<circle cx="1552.6" cy="434.4" r="3.6" fill="#b4b4b5"/>
<circle cx="1531.9" cy="439.6" r="3.6" fill="#b4b4b5"/>
<circle cx="1564.4" cy="428.2" r="3.6" fill="#b4b4b5"/>
<circle cx="1521.9" cy="439.4" r="3.6" fill="#b4b4b5"/>
<circle cx="1572.4" cy="421.4" r="3.6" fill="#b4b4b5"/>
<circle cx="1500.0" cy="430.5" r="3.6" fill="#b4b4b5"/>
<circle cx="1557.6" cy="435.4" r="3.6" fill="#b4b4b5"/>
<circle cx="1560.7" cy="435.8" r="3.6" fill="#b4b4b5"/>
<circle cx="1505.9" cy="438.1" r="3.6" fill="#b4b4b5"/>
<circle cx="1512.8" cy="438.2" r="3.6" fill="#b4b4b5"/>
<circle cx="1522.3" cy="437.8" r="3.6" fill="#b4b4b5"/>
<circle cx="1542.0" cy="439.7" r="3.6" fill="#b4b4b5"/>
<circle cx="1567.7" cy="437.8" r="3.6" fill="#b4b4b5"/>
<circle cx="1560.0" cy="436.0" r="3.6" fill="#b4b4b5"/>
<circle cx="1573.6" cy="436.3" r="3.6" fill="#b4b4b5"/>
<circle cx="1500.9" cy="435.7" r="3.6" fill="#b4b4b5"/>
<circle cx="1570.1" cy="429.3" r="3.6" fill="#b4b4b5"/>
<circle cx="1571.5" cy="434.4" r="3.6" fill="#b4b4b5"/>
<circle cx="1569.0" cy="429.8" r="3.6" fill="#b4b4b5"/>
<circle cx="1546.7" cy="438.0" r="3.6" fill="#b4b4b5"/>
<circle cx="1535.2" cy="439.6" r="3.6" fill="#b4b4b5"/>
<circle cx="1565.8" cy="428.6" r="3.6" fill="#b4b4b5"/>
<circle cx="1566.8" cy="429.8" r="3.6" fill="#b4b4b5"/>
<circle cx="1564.4" cy="433.9" r="3.6" fill="#b4b4b5"/>
<circle cx="1498.9" cy="433.4" r="3.6" fill="#b4b4b5"/>
<circle cx="1569.0" cy="439.5" r="3.6" fill="#b4b4b5"/>
<circle cx="1508.2" cy="437.5" r="3.6" fill="#b4b4b5"/>
<circle cx="1514.5" cy="433.9" r="3.6" fill="#b4b4b5"/>
<circle cx="1515.3" cy="434.8" r="3.6" fill="#b4b4b5"/>
<circle cx="1501.0" cy="432.5" r="3.6" fill="#b4b4b5"/>
<circle cx="1573.3" cy="431.8" r="3.6" fill="#b4b4b5"/>
<circle cx="1566.1" cy="437.2" r="3.6" fill="#b4b4b5"/>
<circle cx="1508.6" cy="437.7" r="3.6" fill="#b4b4b5"/>
<circle cx="1500.4" cy="424.6" r="3.6" fill="#b4b4b5"/>
<circle cx="1523.5" cy="438.8" r="3.6" fill="#b4b4b5"/>
<circle cx="1545.9" cy="439.7" r="3.6" fill="#b4b4b5"/>
<circle cx="1510.6" cy="436.7" r="3.6" fill="#b4b4b5"/>
<circle cx="1518.6" cy="438.7" r="3.6" fill="#b4b4b5"/>
<circle cx="1556.1" cy="437.8" r="3.6" fill="#b4b4b5"/>
<circle cx="1534.6" cy="439.6" r="3.6" fill="#b4b4b5"/>
<circle cx="1524.2" cy="439.4" r="3.6" fill="#b4b4b5"/>
<circle cx="1501.2" cy="435.9" r="3.6" fill="#b4b4b5"/>
<circle cx="1499.1" cy="438.9" r="3.6" fill="#b4b4b5"/>
<circle cx="1501.0" cy="430.4" r="3.6" fill="#b4b4b5"/>
<circle cx="1499.5" cy="425.8" r="3.6" fill="#b4b4b5"/>
<circle cx="1572.7" cy="434.8" r="3.6" fill="#b4b4b5"/>
<circle cx="1499.4" cy="436.7" r="3.6" fill="#b4b4b5"/>
<circle cx="1549.2" cy="438.5" r="3.6" fill="#b4b4b5"/>
<circle cx="1521.9" cy="437.3" r="3.6" fill="#b4b4b5"/>
<circle cx="1549.7" cy="437.7" r="3.6" fill="#b4b4b5"/>
<circle cx="1561.4" cy="431.6" r="3.6" fill="#b4b4b5"/>
<circle cx="1560.4" cy="437.7" r="3.6" fill="#b4b4b5"/>
<circle cx="1573.9" cy="438.9" r="3.6" fill="#b4b4b5"/>
<circle cx="1554.5" cy="433.6" r="3.6" fill="#b4b4b5"/>
<circle cx="1569.5" cy="433.6" r="3.6" fill="#b4b4b5"/>
<circle cx="1519.1" cy="438.9" r="3.6" fill="#b4b4b5"/>
<circle cx="1565.0" cy="435.1" r="3.6" fill="#b4b4b5"/>
<circle cx="1552.6" cy="435.7" r="3.6" fill="#b4b4b5"/>
<circle cx="1572.2" cy="437.7" r="3.6" fill="#b4b4b5"/>
<circle cx="1529.9" cy="439.3" r="3.6" fill="#b4b4b5"/>
<circle cx="1507.9" cy="430.5" r="3.6" fill="#b4b4b5"/>
<circle cx="1546.8" cy="437.0" r="3.6" fill="#b4b4b5"/>
<circle cx="1564.0" cy="435.4" r="3.6" fill="#b4b4b5"/>
<circle cx="1512.1" cy="434.0" r="3.6" fill="#b4b4b5"/>
<circle cx="1504.8" cy="437.8" r="3.6" fill="#b4b4b5"/>
<circle cx="1526.1" cy="439.6" r="3.6" fill="#b4b4b5"/>
<circle cx="1569.1" cy="425.9" r="3.6" fill="#b4b4b5"/>
<circle cx="1519.6" cy="439.3" r="3.6" fill="#b4b4b5"/>
<circle cx="1507.1" cy="439.7" r="3.6" fill="#b4b4b5"/>
<circle cx="1510.0" cy="437.8" r="3.6" fill="#b4b4b5"/>
<circle cx="1560.6" cy="433.3" r="3.6" fill="#b4b4b5"/>
<circle cx="1501.7" cy="423.7" r="3.6" fill="#b4b4b5"/>
<circle cx="1509.6" cy="435.5" r="3.6" fill="#b4b4b5"/>
<circle cx="1556.7" cy="438.1" r="3.6" fill="#b4b4b5"/>
<circle cx="1521.5" cy="439.0" r="3.6" fill="#b4b4b5"/>
<circle cx="1517.9" cy="438.9" r="3.6" fill="#b4b4b5"/>
<circle cx="1556.1" cy="433.0" r="3.6" fill="#b4b4b5"/>
<circle cx="1505.3" cy="431.9" r="3.6" fill="#b4b4b5"/>
<circle cx="1505.7" cy="434.8" r="3.6" fill="#b4b4b5"/>
<circle cx="1572.7" cy="438.3" r="3.6" fill="#b4b4b5"/>
<circle cx="1503.4" cy="429.6" r="3.6" fill="#b4b4b5"/>
<circle cx="1514.6" cy="439.5" r="3.6" fill="#b4b4b5"/>
<circle cx="1554.9" cy="435.5" r="3.6" fill="#b4b4b5"/>
<circle cx="1515.8" cy="436.9" r="3.6" fill="#b4b4b5"/>
<circle cx="1522.3" cy="438.8" r="3.6" fill="#b4b4b5"/>
<circle cx="1563.7" cy="437.9" r="3.6" fill="#b4b4b5"/>
<circle cx="1552.1" cy="438.7" r="3.6" fill="#b4b4b5"/>
<circle cx="1556.1" cy="431.6" r="3.6" fill="#b4b4b5"/>
<circle cx="1563.8" cy="434.6" r="3.6" fill="#b4b4b5"/>
<circle cx="1566.4" cy="437.1" r="3.6" fill="#b4b4b5"/>
<circle cx="1510.1" cy="438.2" r="3.6" fill="#b4b4b5"/>
<circle cx="1528.4" cy="439.6" r="3.6" fill="#b4b4b5"/>
<circle cx="1547.5" cy="438.7" r="3.6" fill="#b4b4b5"/>
<circle cx="1504.8" cy="435.4" r="3.6" fill="#b4b4b5"/>
<circle cx="1521.2" cy="439.2" r="3.6" fill="#b4b4b5"/>
<circle cx="1569.0" cy="429.6" r="3.6" fill="#b4b4b5"/>
<circle cx="1499.6" cy="434.2" r="3.6" fill="#b4b4b5"/>
<circle cx="1510.3" cy="437.7" r="3.6" fill="#b4b4b5"/>
<circle cx="1572.2" cy="428.8" r="3.6" fill="#b4b4b5"/>
<circle cx="1566.8" cy="437.8" r="3.6" fill="#b4b4b5"/>
<circle cx="1570.5" cy="437.9" r="3.6" fill="#b4b4b5"/>
<circle cx="1566.2" cy="433.1" r="3.6" fill="#b4b4b5"/>
<circle cx="1569.8" cy="429.7" r="3.6" fill="#b4b4b5"/>
<circle cx="1524.7" cy="439.4" r="3.6" fill="#b4b4b5"/>
<circle cx="1559.1" cy="431.6" r="3.6" fill="#b4b4b5"/>
<circle cx="1513.7" cy="435.4" r="3.6" fill="#b4b4b5"/>
<circle cx="1545.9" cy="438.0" r="3.6" fill="#b4b4b5"/>
<circle cx="1507.3" cy="437.6" r="3.6" fill="#b4b4b5"/>
<circle cx="1529.8" cy="439.4" r="3.6" fill="#b4b4b5"/>
<circle cx="1572.1" cy="419.8" r="3.6" fill="#b4b4b5"/>
<circle cx="1522.8" cy="438.0" r="3.6" fill="#b4b4b5"/>
<circle cx="1505.5" cy="435.0" r="3.6" fill="#b4b4b5"/>
<circle cx="1522.8" cy="438.2" r="3.6" fill="#b4b4b5"/>
<circle cx="1504.5" cy="430.5" r="3.6" fill="#b4b4b5"/>
<circle cx="1570.2" cy="430.7" r="3.6" fill="#b4b4b5"/>
<circle cx="1501.4" cy="438.5" r="3.6" fill="#b4b4b5"/>
<circle cx="1510.0" cy="439.5" r="3.6" fill="#b4b4b5"/>
<circle cx="1521.2" cy="437.1" r="3.6" fill="#b4b4b5"/>
<circle cx="1569.8" cy="429.0" r="3.6" fill="#b4b4b5"/>
<circle cx="1563.1" cy="431.1" r="3.6" fill="#b4b4b5"/>
<circle cx="1566.6" cy="428.2" r="3.6" fill="#b4b4b5"/>
<circle cx="1512.2" cy="435.4" r="3.6" fill="#b4b4b5"/>
<circle cx="1567.9" cy="433.8" r="3.6" fill="#b4b4b5"/>
<circle cx="1524.1" cy="438.5" r="3.6" fill="#b4b4b5"/>
<circle cx="1501.8" cy="432.3" r="3.6" fill="#b4b4b5"/>
<circle cx="1573.8" cy="425.2" r="3.6" fill="#b4b4b5"/>
<circle cx="1550.9" cy="438.9" r="3.6" fill="#b4b4b5"/>
<circle cx="1503.0" cy="437.7" r="3.6" fill="#b4b4b5"/>
<circle cx="1547.4" cy="437.6" r="3.6" fill="#b4b4b5"/>
<circle cx="1548.2" cy="438.1" r="3.6" fill="#b4b4b5"/>
<circle cx="1499.9" cy="432.7" r="3.6" fill="#b4b4b5"/>
<circle cx="1556.8" cy="438.2" r="3.6" fill="#b4b4b5"/>
<circle cx="1500.7" cy="423.2" r="3.6" fill="#b4b4b5"/>
<circle cx="1553.4" cy="437.2" r="3.6" fill="#b4b4b5"/>
<circle cx="1551.2" cy="439.1" r="3.6" fill="#b4b4b5"/>
<circle cx="1517.6" cy="436.0" r="3.6" fill="#b4b4b5"/>
<circle cx="1512.4" cy="437.9" r="3.6" fill="#b4b4b5"/>
<circle cx="1506.3" cy="428.8" r="3.6" fill="#b4b4b5"/>
<circle cx="1512.6" cy="439.6" r="3.6" fill="#b4b4b5"/>
<circle cx="1566.5" cy="423.4" r="3.6" fill="#b4b4b5"/>
<circle cx="1505.7" cy="430.3" r="3.6" fill="#b4b4b5"/>
<circle cx="1561.5" cy="427.7" r="3.6" fill="#b4b4b5"/>
<circle cx="1569.8" cy="425.3" r="3.6" fill="#b4b4b5"/>
<circle cx="1556.4" cy="435.0" r="3.6" fill="#b4b4b5"/>
<circle cx="1556.6" cy="434.6" r="3.6" fill="#b4b4b5"/>
<circle cx="1506.8" cy="431.5" r="3.6" fill="#b4b4b5"/>
<circle cx="1505.1" cy="431.3" r="3.6" fill="#b4b4b5"/>
<circle cx="1564.3" cy="436.5" r="3.6" fill="#b4b4b5"/>
<circle cx="1502.8" cy="425.1" r="3.6" fill="#b4b4b5"/>
<circle cx="1527.6" cy="439.5" r="3.6" fill="#b4b4b5"/>
<circle cx="1552.2" cy="436.8" r="3.6" fill="#b4b4b5"/>
<circle cx="1565.0" cy="426.6" r="3.6" fill="#b4b4b5"/>
<circle cx="1524.1" cy="438.1" r="3.6" fill="#b4b4b5"/>
<circle cx="1529.1" cy="439.7" r="3.6" fill="#b4b4b5"/>
<circle cx="1511.1" cy="437.2" r="3.6" fill="#b4b4b5"/>
<circle cx="1570.3" cy="428.8" r="3.6" fill="#b4b4b5"/>
<circle cx="1514.1" cy="433.3" r="3.6" fill="#b4b4b5"/>
<circle cx="1505.9" cy="439.6" r="3.6" fill="#b4b4b5"/>
<circle cx="1566.7" cy="434.2" r="3.6" fill="#b4b4b5"/>
<circle cx="1516.9" cy="437.0" r="3.6" fill="#b4b4b5"/>
<circle cx="1548.7" cy="437.7" r="3.6" fill="#b4b4b5"/>
<circle cx="1569.6" cy="437.0" r="3.6" fill="#b4b4b5"/>
<circle cx="1551.3" cy="438.8" r="3.6" fill="#b4b4b5"/>
<circle cx="1563.9" cy="431.7" r="3.6" fill="#b4b4b5"/>
<circle cx="1550.5" cy="438.7" r="3.6" fill="#b4b4b5"/>
<circle cx="1563.1" cy="436.6" r="3.6" fill="#b4b4b5"/>
<circle cx="1552.9" cy="439.5" r="3.6" fill="#b4b4b5"/>
<circle cx="1553.0" cy="434.3" r="3.6" fill="#b4b4b5"/>
<circle cx="1509.2" cy="437.3" r="3.6" fill="#b4b4b5"/>
<circle cx="1500.5" cy="428.8" r="3.6" fill="#b4b4b5"/>
<circle cx="1525.9" cy="439.8" r="3.6" fill="#b4b4b5"/>
<circle cx="1501.0" cy="432.4" r="3.6" fill="#b4b4b5"/>
<circle cx="1564.2" cy="430.2" r="3.6" fill="#b4b4b5"/>
<circle cx="1573.7" cy="436.5" r="3.6" fill="#b4b4b5"/>
<circle cx="1549.6" cy="439.2" r="3.6" fill="#b4b4b5"/>
<circle cx="1501.2" cy="426.9" r="3.6" fill="#b4b4b5"/>
<circle cx="1570.5" cy="424.4" r="3.6" fill="#b4b4b5"/>
<circle cx="1547.0" cy="436.7" r="3.6" fill="#b4b4b5"/>
<circle cx="1499.2" cy="438.8" r="3.6" fill="#b4b4b5"/>
<circle cx="1557.0" cy="437.3" r="3.6" fill="#b4b4b5"/>
<circle cx="1559.3" cy="436.1" r="3.6" fill="#b4b4b5"/>
<circle cx="1542.1" cy="438.8" r="3.6" fill="#b4b4b5"/>
<circle cx="1524.8" cy="438.8" r="3.6" fill="#b4b4b5"/>
<circle cx="1552.0" cy="437.5" r="3.6" fill="#b4b4b5"/>
<circle cx="1509.5" cy="434.0" r="3.6" fill="#b4b4b5"/>
<circle cx="1544.3" cy="439.2" r="3.6" fill="#b4b4b5"/>
<circle cx="1499.8" cy="433.0" r="3.6" fill="#b4b4b5"/>
<circle cx="1514.2" cy="437.7" r="3.6" fill="#b4b4b5"/>
<circle cx="1568.9" cy="435.9" r="3.6" fill="#b4b4b5"/>
<circle cx="1499.0" cy="437.0" r="3.6" fill="#b4b4b5"/>
<circle cx="1560.1" cy="434.2" r="3.6" fill="#b4b4b5"/>
<circle cx="1572.0" cy="431.1" r="3.6" fill="#b4b4b5"/>
<circle cx="1560.8" cy="438.9" r="3.6" fill="#b4b4b5"/>
<circle cx="1530.4" cy="439.6" r="3.6" fill="#b4b4b5"/>
<circle cx="1568.3" cy="433.5" r="3.6" fill="#b4b4b5"/>
<circle cx="1556.9" cy="436.7" r="3.6" fill="#b4b4b5"/>
<circle cx="1525.8" cy="439.0" r="3.6" fill="#b4b4b5"/>
<circle cx="1559.7" cy="429.6" r="3.6" fill="#b4b4b5"/>
<circle cx="1563.3" cy="430.4" r="3.6" fill="#b4b4b5"/>
<circle cx="1514.7" cy="435.5" r="3.6" fill="#b4b4b5"/>
<circle cx="1500.9" cy="439.3" r="3.6" fill="#b4b4b5"/>
<circle cx="1571.2" cy="429.2" r="3.6" fill="#b4b4b5"/>
<circle cx="1553.9" cy="438.3" r="3.6" fill="#b4b4b5"/>
<circle cx="1572.0" cy="421.7" r="3.6" fill="#b4b4b5"/>
<circle cx="1549.7" cy="438.1" r="3.6" fill="#b4b4b5"/>
<circle cx="1539.0" cy="439.6" r="3.6" fill="#b4b4b5"/>
<circle cx="1517.1" cy="435.6" r="3.6" fill="#b4b4b5"/>
<circle cx="1570.1" cy="429.1" r="3.6" fill="#b4b4b5"/>
<circle cx="1509.0" cy="430.5" r="3.6" fill="#b4b4b5"/>
<circle cx="1501.2" cy="428.2" r="3.6" fill="#b4b4b5"/>
<circle cx="1500.4" cy="439.4" r="3.6" fill="#b4b4b5"/>
<circle cx="1521.8" cy="438.0" r="3.6" fill="#b4b4b5"/>
<circle cx="1571.8" cy="424.2" r="3.6" fill="#b4b4b5"/>
<circle cx="1558.5" cy="435.2" r="3.6" fill="#b4b4b5"/>
<circle cx="1501.6" cy="439.7" r="3.6" fill="#b4b4b5"/>
<circle cx="1507.7" cy="431.4" r="3.6" fill="#b4b4b5"/>
<circle cx="1545.2" cy="437.6" r="3.6" fill="#b4b4b5"/>
<circle cx="1557.1" cy="439.0" r="3.6" fill="#b4b4b5"/>
<circle cx="1567.9" cy="425.2" r="3.6" fill="#b4b4b5"/>
<circle cx="1572.7" cy="429.4" r="3.6" fill="#b4b4b5"/>
<circle cx="1521.1" cy="438.0" r="3.6" fill="#b4b4b5"/>
<circle cx="1552.9" cy="435.1" r="3.6" fill="#b4b4b5"/>
<circle cx="1506.8" cy="437.7" r="3.6" fill="#b4b4b5"/>
<circle cx="1506.9" cy="438.6" r="3.6" fill="#b4b4b5"/>
<circle cx="1554.2" cy="435.3" r="3.6" fill="#b4b4b5"/>
<circle cx="1566.8" cy="428.7" r="3.6" fill="#b4b4b5"/>
<circle cx="1547.8" cy="439.8" r="3.6" fill="#b4b4b5"/>
<circle cx="1510.6" cy="436.2" r="3.6" fill="#b4b4b5"/>
<circle cx="1508.6" cy="433.2" r="3.6" fill="#b4b4b5"/>
<circle cx="1503.4" cy="425.5" r="3.6" fill="#b4b4b5"/>
<circle cx="1504.5" cy="429.5" r="3.6" fill="#b4b4b5"/>
<circle cx="1510.0" cy="432.8" r="3.6" fill="#b4b4b5"/>
<circle cx="1573.7" cy="419.0" r="3.6" fill="#b4b4b5"/>
<circle cx="1504.7" cy="431.7" r="3.6" fill="#b4b4b5"/>
<circle cx="1562.6" cy="429.9" r="3.6" fill="#b4b4b5"/>
<circle cx="1566.3" cy="430.5" r="3.6" fill="#b4b4b5"/>
<circle cx="1569.4" cy="431.7" r="3.6" fill="#b4b4b5"/>
<circle cx="1570.8" cy="434.3" r="3.6" fill="#b4b4b5"/>
<circle cx="1572.9" cy="423.3" r="3.6" fill="#b4b4b5"/>
<circle cx="1551.6" cy="438.0" r="3.6" fill="#b4b4b5"/>
<circle cx="1513.2" cy="438.4" r="3.6" fill="#b4b4b5"/>
<circle cx="1569.6" cy="426.1" r="3.6" fill="#b4b4b5"/>
<circle cx="1521.2" cy="438.7" r="3.6" fill="#b4b4b5"/>
<circle cx="1532.1" cy="439.6" r="3.6" fill="#b4b4b5"/>
<circle cx="1564.5" cy="438.3" r="3.6" fill="#b4b4b5"/>
<circle cx="1524.4" cy="437.8" r="3.6" fill="#b4b4b5"/>
<circle cx="1513.4" cy="436.4" r="3.6" fill="#b4b4b5"/>
<circle cx="1503.5" cy="425.3" r="3.6" fill="#b4b4b5"/>
<circle cx="1564.4" cy="434.1" r="3.6" fill="#b4b4b5"/>
<circle cx="1554.5" cy="433.9" r="3.6" fill="#b4b4b5"/>
<circle cx="1531.5" cy="439.4" r="3.6" fill="#b4b4b5"/>
<circle cx="1563.3" cy="430.8" r="3.6" fill="#b4b4b5"/>
<circle cx="1547.8" cy="439.3" r="3.6" fill="#b4b4b5"/>
<circle cx="1519.8" cy="437.2" r="3.6" fill="#b4b4b5"/>
<circle cx="1570.5" cy="436.2" r="3.6" fill="#b4b4b5"/>
<circle cx="1514.2" cy="436.1" r="3.6" fill="#b4b4b5"/>
<circle cx="1499.5" cy="420.8" r="3.6" fill="#b4b4b5"/>
<circle cx="1504.4" cy="439.6" r="3.6" fill="#b4b4b5"/>
<circle cx="1512.8" cy="438.2" r="3.6" fill="#b4b4b5"/>
<circle cx="1520.4" cy="439.5" r="3.6" fill="#b4b4b5"/>
<circle cx="1514.8" cy="435.9" r="3.6" fill="#b4b4b5"/>
<circle cx="1528.8" cy="439.0" r="3.6" fill="#b4b4b5"/>
<circle cx="1569.0" cy="435.5" r="3.6" fill="#b4b4b5"/>
<circle cx="1519.8" cy="438.5" r="3.6" fill="#b4b4b5"/>
<circle cx="1512.6" cy="439.4" r="3.6" fill="#b4b4b5"/>
<circle cx="1516.7" cy="439.7" r="3.6" fill="#b4b4b5"/>
<circle cx="1544.4" cy="438.6" r="3.6" fill="#b4b4b5"/>
<circle cx="1545.9" cy="438.2" r="3.6" fill="#b4b4b5"/>
<circle cx="1571.2" cy="432.5" r="3.6" fill="#b4b4b5"/>
<circle cx="1561.6" cy="433.2" r="3.6" fill="#b4b4b5"/>
<circle cx="1559.3" cy="437.8" r="3.6" fill="#b4b4b5"/>
<circle cx="1516.3" cy="435.9" r="3.6" fill="#b4b4b5"/>
<circle cx="1551.5" cy="435.9" r="3.6" fill="#b4b4b5"/>
<circle cx="1512.4" cy="435.0" r="3.6" fill="#b4b4b5"/>
<circle cx="1499.0" cy="434.2" r="3.6" fill="#b4b4b5"/>
<circle cx="1553.2" cy="436.3" r="3.6" fill="#b4b4b5"/>
<circle cx="1506.2" cy="432.4" r="3.6" fill="#b4b4b5"/>
<circle cx="1534.0" cy="439.5" r="3.6" fill="#b4b4b5"/>
<circle cx="1514.8" cy="439.4" r="3.6" fill="#b4b4b5"/>
<circle cx="1555.6" cy="435.2" r="3.6" fill="#b4b4b5"/>
<circle cx="1500.3" cy="428.7" r="3.6" fill="#b4b4b5"/>
<circle cx="1568.1" cy="438.4" r="3.6" fill="#b4b4b5"/>
<circle cx="1517.2" cy="437.3" r="3.6" fill="#b4b4b5"/>
<circle cx="1501.5" cy="428.7" r="3.6" fill="#b4b4b5"/>
<circle cx="1563.2" cy="427.5" r="3.6" fill="#b4b4b5"/>
<circle cx="1520.5" cy="436.8" r="3.6" fill="#b4b4b5"/>
<circle cx="1508.7" cy="430.1" r="3.6" fill="#b4b4b5"/>
<circle cx="1513.8" cy="437.1" r="3.6" fill="#b4b4b5"/>
<circle cx="1505.8" cy="430.7" r="3.6" fill="#b4b4b5"/>
<circle cx="1566.8" cy="426.3" r="3.6" fill="#b4b4b5"/>
<circle cx="1518.8" cy="438.9" r="3.6" fill="#b4b4b5"/>
<circle cx="1515.0" cy="439.1" r="3.6" fill="#b4b4b5"/>
<circle cx="1518.3" cy="437.6" r="3.6" fill="#b4b4b5"/>
<circle cx="1531.6" cy="439.2" r="3.6" fill="#b4b4b5"/>
<circle cx="1564.4" cy="437.5" r="3.6" fill="#b4b4b5"/>
<circle cx="1556.6" cy="437.3" r="3.6" fill="#b4b4b5"/>
<circle cx="1553.7" cy="438.0" r="3.6" fill="#b4b4b5"/>
<circle cx="1573.0" cy="437.5" r="3.6" fill="#b4b4b5"/>
<circle cx="1507.7" cy="430.0" r="3.6" fill="#b4b4b5"/>
<circle cx="1514.8" cy="434.2" r="3.6" fill="#b4b4b5"/>
<circle cx="1517.0" cy="437.8" r="3.6" fill="#b4b4b5"/>
<circle cx="1524.1" cy="438.7" r="3.6" fill="#b4b4b5"/>
<circle cx="1523.7" cy="439.2" r="3.6" fill="#b4b4b5"/>
<circle cx="1527.7" cy="439.2" r="3.6" fill="#b4b4b5"/>
<circle cx="1524.4" cy="439.1" r="3.6" fill="#b4b4b5"/>
<circle cx="1564.0" cy="436.2" r="3.6" fill="#b4b4b5"/>
<circle cx="1514.8" cy="436.3" r="3.6" fill="#b4b4b5"/>
<circle cx="1514.4" cy="433.9" r="3.6" fill="#b4b4b5"/>
<circle cx="1509.0" cy="435.2" r="3.6" fill="#b4b4b5"/>
<circle cx="1519.8" cy="436.6" r="3.6" fill="#b4b4b5"/>
<circle cx="1501.3" cy="432.9" r="3.6" fill="#b4b4b5"/>
<circle cx="1506.8" cy="430.5" r="3.6" fill="#b4b4b5"/>
<circle cx="1508.2" cy="439.4" r="3.6" fill="#b4b4b5"/>
<circle cx="1509.2" cy="439.3" r="3.6" fill="#b4b4b5"/>
<circle cx="1565.9" cy="434.6" r="3.6" fill="#b4b4b5"/>
<circle cx="1514.0" cy="435.4" r="3.6" fill="#b4b4b5"/>
<circle cx="1571.5" cy="428.4" r="3.6" fill="#b4b4b5"/>
<circle cx="1544.3" cy="438.0" r="3.6" fill="#b4b4b5"/>
<circle cx="1557.0" cy="434.6" r="3.6" fill="#b4b4b5"/>
<circle cx="1550.9" cy="436.2" r="3.6" fill="#b4b4b5"/>
<circle cx="1506.4" cy="430.9" r="3.6" fill="#b4b4b5"/>
<circle cx="1510.1" cy="434.9" r="3.6" fill="#b4b4b5"/>
<circle cx="1511.6" cy="437.3" r="3.6" fill="#b4b4b5"/>
<circle cx="1565.8" cy="433.8" r="3.6" fill="#b4b4b5"/>
<circle cx="1573.3" cy="426.9" r="3.6" fill="#b4b4b5"/>
<circle cx="1501.4" cy="428.5" r="3.6" fill="#b4b4b5"/>
<circle cx="1567.5" cy="435.2" r="3.6" fill="#b4b4b5"/>
<circle cx="1570.3" cy="423.8" r="3.6" fill="#b4b4b5"/>
<circle cx="1562.4" cy="435.0" r="3.6" fill="#b4b4b5"/>
<circle cx="1518.6" cy="439.0" r="3.6" fill="#b4b4b5"/>
<circle cx="1554.5" cy="434.8" r="3.6" fill="#b4b4b5"/>
<circle cx="1523.1" cy="438.8" r="3.6" fill="#b4b4b5"/>
<circle cx="1529.7" cy="439.1" r="3.6" fill="#b4b4b5"/>
<circle cx="1505.8" cy="428.5" r="3.6" fill="#b4b4b5"/>
<circle cx="1504.1" cy="432.8" r="3.6" fill="#b4b4b5"/>
<circle cx="1501.9" cy="437.9" r="3.6" fill="#b4b4b5"/>
<circle cx="1519.8" cy="438.4" r="3.6" fill="#b4b4b5"/>
<circle cx="1559.6" cy="437.2" r="3.6" fill="#b4b4b5"/>
<circle cx="1505.5" cy="431.5" r="3.6" fill="#b4b4b5"/>
<circle cx="1504.5" cy="437.8" r="3.6" fill="#b4b4b5"/>
<circle cx="1564.4" cy="432.4" r="3.6" fill="#b4b4b5"/>
<circle cx="1565.8" cy="437.6" r="3.6" fill="#b4b4b5"/>
<circle cx="1549.7" cy="437.4" r="3.6" fill="#b4b4b5"/>
<circle cx="1554.3" cy="434.4" r="3.6" fill="#b4b4b5"/>
<circle cx="1509.0" cy="439.3" r="3.6" fill="#b4b4b5"/>
<circle cx="1550.1" cy="438.6" r="3.6" fill="#b4b4b5"/>
<circle cx="1507.7" cy="433.8" r="3.6" fill="#b4b4b5"/>
<circle cx="1573.7" cy="419.5" r="3.6" fill="#b4b4b5"/>
<circle cx="1549.4" cy="435.9" r="3.6" fill="#b4b4b5"/>
<circle cx="1505.1" cy="439.7" r="3.6" fill="#b4b4b5"/>
<circle cx="1516.9" cy="435.3" r="3.6" fill="#b4b4b5"/>
<circle cx="1562.2" cy="432.7" r="3.6" fill="#b4b4b5"/>
<circle cx="1503.5" cy="437.6" r="3.6" fill="#b4b4b5"/>
<circle cx="1514.8" cy="437.8" r="3.6" fill="#b4b4b5"/>
<circle cx="1573.5" cy="428.0" r="3.6" fill="#b4b4b5"/>
<circle cx="1563.8" cy="437.5" r="3.6" fill="#b4b4b5"/>
<circle cx="1523.3" cy="437.8" r="3.6" fill="#b4b4b5"/>
<circle cx="1555.0" cy="436.4" r="3.6" fill="#b4b4b5"/>
<circle cx="1517.2" cy="435.4" r="3.6" fill="#b4b4b5"/>
<circle cx="1550.6" cy="438.3" r="3.6" fill="#b4b4b5"/>
<circle cx="1520.9" cy="438.4" r="3.6" fill="#b4b4b5"/>
<circle cx="1519.6" cy="436.7" r="3.6" fill="#b4b4b5"/>
<circle cx="1501.3" cy="428.3" r="3.6" fill="#b4b4b5"/>
<circle cx="1522.9" cy="438.7" r="3.6" fill="#b4b4b5"/>
<circle cx="1553.1" cy="439.1" r="3.6" fill="#b4b4b5"/>
<circle cx="1514.1" cy="438.7" r="3.6" fill="#b4b4b5"/>
<circle cx="1530.2" cy="439.5" r="3.6" fill="#b4b4b5"/>
<circle cx="1565.8" cy="429.4" r="3.6" fill="#b4b4b5"/>
<circle cx="1571.2" cy="439.7" r="3.6" fill="#b4b4b5"/>
<circle cx="1502.7" cy="435.8" r="3.6" fill="#b4b4b5"/>
<circle cx="1533.0" cy="439.4" r="3.6" fill="#b4b4b5"/>
<circle cx="1528.9" cy="439.3" r="3.6" fill="#b4b4b5"/>
<circle cx="1557.0" cy="436.0" r="3.6" fill="#b4b4b5"/>
<circle cx="1521.7" cy="439.7" r="3.6" fill="#b4b4b5"/>
<circle cx="1510.6" cy="438.4" r="3.6" fill="#b4b4b5"/>
<circle cx="1568.4" cy="430.0" r="3.6" fill="#b4b4b5"/>
<circle cx="1570.4" cy="435.8" r="3.6" fill="#b4b4b5"/>
<circle cx="1548.5" cy="439.6" r="3.6" fill="#b4b4b5"/>
<circle cx="1505.8" cy="430.6" r="3.6" fill="#b4b4b5"/>
<circle cx="1542.9" cy="439.2" r="3.6" fill="#b4b4b5"/>
<circle cx="1514.9" cy="436.4" r="3.6" fill="#b4b4b5"/>
<circle cx="1570.0" cy="428.5" r="3.6" fill="#b4b4b5"/>
<circle cx="1558.5" cy="433.2" r="3.6" fill="#b4b4b5"/>
<circle cx="1557.4" cy="431.7" r="3.6" fill="#b4b4b5"/>
<circle cx="1504.9" cy="429.3" r="3.6" fill="#b4b4b5"/>
<circle cx="1563.9" cy="436.0" r="3.6" fill="#b4b4b5"/>
<circle cx="1526.9" cy="438.8" r="3.6" fill="#b4b4b5"/>
<circle cx="1513.5" cy="432.9" r="3.6" fill="#b4b4b5"/>
<circle cx="1559.9" cy="433.0" r="3.6" fill="#b4b4b5"/>
<circle cx="1573.0" cy="424.0" r="3.6" fill="#b4b4b5"/>
<circle cx="1557.4" cy="437.9" r="3.6" fill="#b4b4b5"/>
<circle cx="1499.2" cy="429.5" r="3.6" fill="#b4b4b5"/>
<circle cx="1553.8" cy="436.2" r="3.6" fill="#b4b4b5"/>
<circle cx="1552.1" cy="436.0" r="3.6" fill="#b4b4b5"/>
<circle cx="1572.9" cy="426.7" r="3.6" fill="#b4b4b5"/>
<circle cx="1516.0" cy="439.8" r="3.6" fill="#b4b4b5"/>
<circle cx="1507.6" cy="433.6" r="3.6" fill="#b4b4b5"/>
<circle cx="1553.5" cy="437.6" r="3.6" fill="#b4b4b5"/>
<circle cx="1571.0" cy="433.3" r="3.6" fill="#b4b4b5"/>
<circle cx="1564.4" cy="427.6" r="3.6" fill="#b4b4b5"/>
<circle cx="1567.3" cy="431.5" r="3.6" fill="#b4b4b5"/>
<circle cx="1560.4" cy="433.6" r="3.6" fill="#b4b4b5"/>
<circle cx="1508.6" cy="436.0" r="3.6" fill="#b4b4b5"/>
<circle cx="1543.8" cy="439.2" r="3.6" fill="#b4b4b5"/>
<circle cx="1508.8" cy="436.3" r="3.6" fill="#b4b4b5"/>
<circle cx="1551.0" cy="437.5" r="3.6" fill="#b4b4b5"/>
<circle cx="1568.4" cy="428.4" r="3.6" fill="#b4b4b5"/>
<circle cx="1573.7" cy="428.3" r="3.6" fill="#b4b4b5"/>
<circle cx="1549.8" cy="439.8" r="3.6" fill="#b4b4b5"/>
<circle cx="1520.6" cy="439.4" r="3.6" fill="#b4b4b5"/>
<circle cx="1572.7" cy="436.8" r="3.6" fill="#b4b4b5"/>
<circle cx="1563.0" cy="439.7" r="3.6" fill="#b4b4b5"/>
<circle cx="1501.8" cy="435.4" r="3.6" fill="#b4b4b5"/>
<circle cx="1503.3" cy="432.0" r="3.6" fill="#b4b4b5"/>
<circle cx="1571.2" cy="424.4" r="3.6" fill="#b4b4b5"/>
<circle cx="1507.4" cy="429.5" r="3.6" fill="#b4b4b5"/>
<circle cx="1569.5" cy="431.2" r="3.6" fill="#b4b4b5"/>
<circle cx="1503.5" cy="437.9" r="3.6" fill="#b4b4b5"/>
<circle cx="1563.9" cy="438.7" r="3.6" fill="#b4b4b5"/>
<circle cx="1551.0" cy="437.0" r="3.6" fill="#b4b4b5"/>
<circle cx="1532.0" cy="439.5" r="3.6" fill="#b4b4b5"/>
<circle cx="1570.5" cy="422.7" r="3.6" fill="#b4b4b5"/>
<circle cx="1514.9" cy="439.0" r="3.6" fill="#b4b4b5"/>
<circle cx="1571.9" cy="420.9" r="3.6" fill="#b4b4b5"/>
<circle cx="1553.3" cy="437.7" r="3.6" fill="#b4b4b5"/>
<circle cx="1568.2" cy="426.3" r="3.6" fill="#b4b4b5"/>
<circle cx="1560.7" cy="428.3" r="3.6" fill="#b4b4b5"/>
<circle cx="1517.5" cy="438.4" r="3.6" fill="#b4b4b5"/>
<circle cx="1508.5" cy="437.1" r="3.6" fill="#b4b4b5"/>
<circle cx="1525.6" cy="439.4" r="3.6" fill="#b4b4b5"/>
<circle cx="1525.6" cy="438.4" r="3.6" fill="#b4b4b5"/>
<circle cx="1565.5" cy="430.9" r="3.6" fill="#b4b4b5"/>
<circle cx="1499.0" cy="434.4" r="3.6" fill="#b4b4b5"/>
<circle cx="1558.6" cy="433.5" r="3.6" fill="#b4b4b5"/>
<circle cx="1524.7" cy="439.2" r="3.6" fill="#b4b4b5"/>
<circle cx="1503.0" cy="431.1" r="3.6" fill="#b4b4b5"/>
<circle cx="1511.2" cy="439.4" r="3.6" fill="#b4b4b5"/>
<circle cx="1505.8" cy="430.4" r="3.6" fill="#b4b4b5"/>
<circle cx="1556.2" cy="438.9" r="3.6" fill="#b4b4b5"/>
<circle cx="1502.2" cy="435.0" r="3.6" fill="#b4b4b5"/>
<circle cx="1500.4" cy="429.3" r="3.6" fill="#b4b4b5"/>
<circle cx="1565.2" cy="432.4" r="3.6" fill="#b4b4b5"/>
<circle cx="1513.9" cy="435.4" r="3.6" fill="#b4b4b5"/>
<circle cx="1499.9" cy="427.1" r="3.6" fill="#b4b4b5"/>
<circle cx="1566.9" cy="428.1" r="3.6" fill="#b4b4b5"/>
<circle cx="1525.4" cy="439.7" r="3.6" fill="#b4b4b5"/>
<circle cx="1513.9" cy="435.8" r="3.6" fill="#b4b4b5"/>
<circle cx="1570.9" cy="432.6" r="3.6" fill="#b4b4b5"/>
<circle cx="1548.4" cy="439.5" r="3.6" fill="#b4b4b5"/>
<circle cx="1515.8" cy="436.8" r="3.6" fill="#b4b4b5"/>
<circle cx="1566.9" cy="429.9" r="3.6" fill="#b4b4b5"/>
<circle cx="1572.9" cy="419.0" r="3.6" fill="#b4b4b5"/>
<circle cx="1561.8" cy="432.7" r="3.6" fill="#b4b4b5"/>
<circle cx="1517.4" cy="438.6" r="3.6" fill="#b4b4b5"/>
<circle cx="1573.3" cy="439.4" r="3.6" fill="#b4b4b5"/>
<circle cx="1559.7" cy="438.2" r="3.6" fill="#b4b4b5"/>
<circle cx="1567.6" cy="439.8" r="3.6" fill="#b4b4b5"/>
<circle cx="1512.6" cy="435.8" r="3.6" fill="#b4b4b5"/>
<circle cx="1553.8" cy="439.7" r="3.6" fill="#b4b4b5"/>
<circle cx="1515.5" cy="435.3" r="3.6" fill="#b4b4b5"/>
<circle cx="1504.9" cy="427.0" r="3.6" fill="#b4b4b5"/>
<circle cx="1507.3" cy="436.0" r="3.6" fill="#b4b4b5"/>
<circle cx="1555.1" cy="438.6" r="3.6" fill="#b4b4b5"/>
<circle cx="1569.3" cy="423.7" r="3.6" fill="#b4b4b5"/>
<circle cx="1534.4" cy="439.8" r="3.6" fill="#b4b4b5"/>
<circle cx="1571.8" cy="419.5" r="3.6" fill="#b4b4b5"/>
<circle cx="1510.4" cy="436.1" r="3.6" fill="#b4b4b5"/>
<circle cx="1503.7" cy="429.8" r="3.6" fill="#b4b4b5"/>
<circle cx="1549.7" cy="438.2" r="3.6" fill="#b4b4b5"/>
<circle cx="1528.0" cy="439.4" r="3.6" fill="#b4b4b5"/>
<circle cx="1504.0" cy="429.1" r="3.6" fill="#b4b4b5"/>
<circle cx="1530.4" cy="439.3" r="3.6" fill="#b4b4b5"/>
<circle cx="1509.7" cy="435.3" r="3.6" fill="#b4b4b5"/>
<circle cx="1548.6" cy="439.3" r="3.6" fill="#b4b4b5"/>
<circle cx="1499.5" cy="431.5" r="3.6" fill="#b4b4b5"/>
<circle cx="1508.2" cy="438.6" r="3.6" fill="#b4b4b5"/>
<circle cx="1560.2" cy="428.5" r="3.6" fill="#b4b4b5"/>
<circle cx="1503.0" cy="436.1" r="3.6" fill="#b4b4b5"/>
<circle cx="1551.2" cy="437.7" r="3.6" fill="#b4b4b5"/>
<circle cx="1526.7" cy="438.9" r="3.6" fill="#b4b4b5"/>
<circle cx="1566.2" cy="437.7" r="3.6" fill="#b4b4b5"/>
<circle cx="1514.0" cy="433.9" r="3.6" fill="#b4b4b5"/>
<circle cx="1526.6" cy="439.7" r="3.6" fill="#b4b4b5"/>
<circle cx="1511.7" cy="437.4" r="3.6" fill="#b4b4b5"/>
<circle cx="1572.8" cy="431.8" r="3.6" fill="#b4b4b5"/>
<circle cx="1572.0" cy="428.5" r="3.6" fill="#b4b4b5"/>
<circle cx="1504.9" cy="430.0" r="3.6" fill="#b4b4b5"/>
<circle cx="1513.6" cy="436.6" r="3.6" fill="#b4b4b5"/>
<circle cx="1513.6" cy="436.5" r="3.6" fill="#b4b4b5"/>
<circle cx="1502.6" cy="424.1" r="3.6" fill="#b4b4b5"/>
<circle cx="1563.9" cy="432.4" r="3.6" fill="#b4b4b5"/>
<circle cx="1527.3" cy="439.1" r="3.6" fill="#b4b4b5"/>
<circle cx="1511.9" cy="434.1" r="3.6" fill="#b4b4b5"/>
<circle cx="1562.3" cy="427.1" r="3.6" fill="#b4b4b5"/>
<circle cx="1499.6" cy="419.6" r="3.6" fill="#b4b4b5"/>
<circle cx="1573.1" cy="427.6" r="3.6" fill="#b4b4b5"/>
<circle cx="1558.9" cy="433.2" r="3.6" fill="#b4b4b5"/>
<circle cx="1564.9" cy="430.5" r="3.6" fill="#b4b4b5"/>
<circle cx="1510.9" cy="438.0" r="3.6" fill="#b4b4b5"/>
<circle cx="1527.7" cy="439.1" r="3.6" fill="#b4b4b5"/>
<circle cx="1503.6" cy="431.7" r="3.6" fill="#b4b4b5"/>
<circle cx="1559.9" cy="432.6" r="3.6" fill="#b4b4b5"/>
<circle cx="1547.6" cy="439.8" r="3.6" fill="#b4b4b5"/>
<circle cx="1557.6" cy="434.0" r="3.6" fill="#b4b4b5"/>
<circle cx="1569.5" cy="433.9" r="3.6" fill="#b4b4b5"/>
<circle cx="1676.7" cy="438.4" r="3.6" fill="#cfcfcf"/>
<circle cx="1381.7" cy="438.4" r="3.6" fill="#cfcfcf"/>
</g>
<line x1="1538.4" y1="109.3" x2="1538.4" y2="436" stroke="#707070" stroke-width="1.2" stroke-dasharray="5.8 2.7"/>
<rect x="1303.5" y="109.3" width="469.79999999999995" height="331.9" fill="none" stroke="#231815" stroke-width="1.8"/>
<g>
<circle cx="1466.0" cy="355.5" r="3.6" fill="#85c8ea"/>
<circle cx="1463.0" cy="353.4" r="3.6" fill="#85c8ea"/>
<circle cx="1487.9" cy="410.6" r="3.6" fill="#85c8ea"/>
<circle cx="1440.9" cy="416.7" r="3.6" fill="#85c8ea"/>
<circle cx="1486.0" cy="435.0" r="3.6" fill="#85c8ea"/>
<circle cx="1438.2" cy="412.6" r="3.6" fill="#85c8ea"/>
<circle cx="1469.0" cy="423.2" r="3.6" fill="#85c8ea"/>
<circle cx="1494.5" cy="419.5" r="3.6" fill="#85c8ea"/>
<circle cx="1453.9" cy="434.0" r="3.6" fill="#85c8ea"/>
<circle cx="1470.9" cy="426.0" r="3.6" fill="#85c8ea"/>
<circle cx="1467.2" cy="424.1" r="3.6" fill="#85c8ea"/>
<circle cx="1463.0" cy="402.5" r="3.6" fill="#85c8ea"/>
<circle cx="1454.9" cy="367.0" r="3.6" fill="#85c8ea"/>
<circle cx="1448.1" cy="423.1" r="3.6" fill="#85c8ea"/>
<circle cx="1469.7" cy="366.6" r="3.6" fill="#85c8ea"/>
<circle cx="1474.4" cy="418.6" r="3.6" fill="#85c8ea"/>
<circle cx="1447.7" cy="366.2" r="3.6" fill="#85c8ea"/>
<circle cx="1479.4" cy="390.3" r="3.6" fill="#85c8ea"/>
<circle cx="1488.0" cy="411.2" r="3.6" fill="#85c8ea"/>
<circle cx="1458.3" cy="379.6" r="3.6" fill="#85c8ea"/>
<circle cx="1483.7" cy="409.4" r="3.6" fill="#85c8ea"/>
<circle cx="1471.0" cy="367.8" r="3.6" fill="#85c8ea"/>
<circle cx="1439.7" cy="404.5" r="3.6" fill="#85c8ea"/>
<circle cx="1459.7" cy="401.2" r="3.6" fill="#85c8ea"/>
<circle cx="1492.1" cy="419.1" r="3.6" fill="#85c8ea"/>
<circle cx="1475.8" cy="406.2" r="3.6" fill="#85c8ea"/>
<circle cx="1475.6" cy="397.5" r="3.6" fill="#85c8ea"/>
<circle cx="1467.0" cy="364.9" r="3.6" fill="#85c8ea"/>
<circle cx="1463.8" cy="374.0" r="3.6" fill="#85c8ea"/>
<circle cx="1455.7" cy="378.5" r="3.6" fill="#85c8ea"/>
<circle cx="1455.8" cy="373.7" r="3.6" fill="#85c8ea"/>
<circle cx="1471.0" cy="413.4" r="3.6" fill="#85c8ea"/>
<circle cx="1467.3" cy="397.5" r="3.6" fill="#85c8ea"/>
<circle cx="1468.0" cy="429.7" r="3.6" fill="#85c8ea"/>
<circle cx="1468.9" cy="412.9" r="3.6" fill="#85c8ea"/>
<circle cx="1469.1" cy="437.6" r="3.6" fill="#85c8ea"/>
<circle cx="1458.0" cy="420.7" r="3.6" fill="#85c8ea"/>
<circle cx="1470.4" cy="385.3" r="3.6" fill="#85c8ea"/>
<circle cx="1456.8" cy="412.3" r="3.6" fill="#85c8ea"/>
<circle cx="1467.5" cy="357.1" r="3.6" fill="#85c8ea"/>
<circle cx="1472.7" cy="396.6" r="3.6" fill="#85c8ea"/>
<circle cx="1470.6" cy="401.3" r="3.6" fill="#85c8ea"/>
<circle cx="1490.2" cy="411.1" r="3.6" fill="#85c8ea"/>
<circle cx="1473.6" cy="433.6" r="3.6" fill="#85c8ea"/>
<circle cx="1453.5" cy="405.7" r="3.6" fill="#85c8ea"/>
<circle cx="1451.0" cy="424.2" r="3.6" fill="#85c8ea"/>
<circle cx="1475.5" cy="389.9" r="3.6" fill="#85c8ea"/>
<circle cx="1464.0" cy="349.9" r="3.6" fill="#85c8ea"/>
<circle cx="1471.9" cy="411.8" r="3.6" fill="#85c8ea"/>
<circle cx="1446.0" cy="392.5" r="3.6" fill="#85c8ea"/>
<circle cx="1486.6" cy="435.9" r="3.6" fill="#85c8ea"/>
<circle cx="1452.3" cy="427.5" r="3.6" fill="#85c8ea"/>
<circle cx="1459.3" cy="426.2" r="3.6" fill="#85c8ea"/>
<circle cx="1462.6" cy="378.2" r="3.6" fill="#85c8ea"/>
<circle cx="1448.8" cy="414.7" r="3.6" fill="#85c8ea"/>
<circle cx="1477.4" cy="425.0" r="3.6" fill="#85c8ea"/>
<circle cx="1492.4" cy="433.0" r="3.6" fill="#85c8ea"/>
<circle cx="1465.2" cy="420.1" r="3.6" fill="#85c8ea"/>
<circle cx="1484.9" cy="436.0" r="3.6" fill="#85c8ea"/>
<circle cx="1475.5" cy="388.4" r="3.6" fill="#85c8ea"/>
<circle cx="1460.5" cy="422.6" r="3.6" fill="#85c8ea"/>
<circle cx="1438.8" cy="384.0" r="3.6" fill="#85c8ea"/>
<circle cx="1455.8" cy="409.5" r="3.6" fill="#85c8ea"/>
<circle cx="1451.5" cy="388.6" r="3.6" fill="#85c8ea"/>
<circle cx="1460.1" cy="369.1" r="3.6" fill="#85c8ea"/>
<circle cx="1453.1" cy="386.5" r="3.6" fill="#85c8ea"/>
<circle cx="1462.4" cy="387.0" r="3.6" fill="#85c8ea"/>
<circle cx="1458.1" cy="431.5" r="3.6" fill="#85c8ea"/>
<circle cx="1489.6" cy="430.7" r="3.6" fill="#85c8ea"/>
<circle cx="1472.7" cy="414.7" r="3.6" fill="#85c8ea"/>
<circle cx="1474.7" cy="423.0" r="3.6" fill="#85c8ea"/>
<circle cx="1491.5" cy="418.2" r="3.6" fill="#85c8ea"/>
<circle cx="1461.4" cy="425.6" r="3.6" fill="#85c8ea"/>
<circle cx="1469.2" cy="354.9" r="3.6" fill="#85c8ea"/>
<circle cx="1474.8" cy="395.2" r="3.6" fill="#85c8ea"/>
<circle cx="1459.9" cy="382.2" r="3.6" fill="#85c8ea"/>
<circle cx="1472.9" cy="395.9" r="3.6" fill="#85c8ea"/>
<circle cx="1476.3" cy="435.5" r="3.6" fill="#85c8ea"/>
<circle cx="1461.7" cy="411.6" r="3.6" fill="#85c8ea"/>
<circle cx="1476.9" cy="382.1" r="3.6" fill="#85c8ea"/>
<circle cx="1472.2" cy="365.7" r="3.6" fill="#85c8ea"/>
<circle cx="1445.8" cy="418.0" r="3.6" fill="#85c8ea"/>
<circle cx="1455.3" cy="433.2" r="3.6" fill="#85c8ea"/>
<circle cx="1448.0" cy="411.6" r="3.6" fill="#85c8ea"/>
<circle cx="1468.4" cy="438.1" r="3.6" fill="#85c8ea"/>
<circle cx="1451.6" cy="431.4" r="3.6" fill="#85c8ea"/>
<circle cx="1445.6" cy="418.6" r="3.6" fill="#85c8ea"/>
<circle cx="1461.7" cy="348.3" r="3.6" fill="#85c8ea"/>
<circle cx="1483.8" cy="437.7" r="3.6" fill="#85c8ea"/>
<circle cx="1486.8" cy="430.5" r="3.6" fill="#85c8ea"/>
<circle cx="1444.2" cy="408.3" r="3.6" fill="#85c8ea"/>
<circle cx="1451.5" cy="408.7" r="3.6" fill="#85c8ea"/>
<circle cx="1461.0" cy="408.7" r="3.6" fill="#85c8ea"/>
<circle cx="1451.8" cy="406.6" r="3.6" fill="#85c8ea"/>
<circle cx="1468.4" cy="421.2" r="3.6" fill="#85c8ea"/>
<circle cx="1443.8" cy="405.6" r="3.6" fill="#85c8ea"/>
<circle cx="1469.8" cy="405.7" r="3.6" fill="#85c8ea"/>
<circle cx="1478.9" cy="437.2" r="3.6" fill="#85c8ea"/>
<circle cx="1454.0" cy="369.6" r="3.6" fill="#85c8ea"/>
<circle cx="1470.7" cy="392.7" r="3.6" fill="#85c8ea"/>
<circle cx="1494.3" cy="435.3" r="3.6" fill="#85c8ea"/>
<circle cx="1492.5" cy="435.9" r="3.6" fill="#85c8ea"/>
<circle cx="1492.7" cy="430.7" r="3.6" fill="#85c8ea"/>
<circle cx="1460.3" cy="345.0" r="3.6" fill="#85c8ea"/>
<circle cx="1478.8" cy="413.4" r="3.6" fill="#85c8ea"/>
<circle cx="1476.1" cy="414.9" r="3.6" fill="#85c8ea"/>
<circle cx="1455.2" cy="435.0" r="3.6" fill="#85c8ea"/>
<circle cx="1488.0" cy="408.1" r="3.6" fill="#85c8ea"/>
<circle cx="1452.5" cy="348.9" r="3.6" fill="#85c8ea"/>
<circle cx="1493.6" cy="431.3" r="3.6" fill="#85c8ea"/>
<circle cx="1451.1" cy="346.4" r="3.6" fill="#85c8ea"/>
<circle cx="1482.7" cy="428.9" r="3.6" fill="#85c8ea"/>
<circle cx="1471.8" cy="408.2" r="3.6" fill="#85c8ea"/>
<circle cx="1487.2" cy="424.5" r="3.6" fill="#85c8ea"/>
<circle cx="1453.9" cy="332.3" r="3.6" fill="#85c8ea"/>
<circle cx="1494.2" cy="426.8" r="3.6" fill="#85c8ea"/>
<circle cx="1470.2" cy="429.2" r="3.6" fill="#85c8ea"/>
<circle cx="1455.8" cy="392.7" r="3.6" fill="#85c8ea"/>
<circle cx="1463.5" cy="342.8" r="3.6" fill="#85c8ea"/>
<circle cx="1465.2" cy="385.4" r="3.6" fill="#85c8ea"/>
<circle cx="1460.0" cy="408.7" r="3.6" fill="#85c8ea"/>
<circle cx="1469.8" cy="419.2" r="3.6" fill="#85c8ea"/>
<circle cx="1474.8" cy="382.3" r="3.6" fill="#85c8ea"/>
<circle cx="1447.7" cy="375.2" r="3.6" fill="#85c8ea"/>
<circle cx="1461.1" cy="384.4" r="3.6" fill="#85c8ea"/>
<circle cx="1465.5" cy="426.1" r="3.6" fill="#85c8ea"/>
<circle cx="1467.3" cy="382.8" r="3.6" fill="#85c8ea"/>
<circle cx="1462.8" cy="385.2" r="3.6" fill="#85c8ea"/>
<circle cx="1475.2" cy="384.6" r="3.6" fill="#85c8ea"/>
<circle cx="1451.2" cy="376.4" r="3.6" fill="#85c8ea"/>
<circle cx="1455.0" cy="389.4" r="3.6" fill="#85c8ea"/>
<circle cx="1481.1" cy="422.5" r="3.6" fill="#85c8ea"/>
<circle cx="1475.7" cy="426.5" r="3.6" fill="#85c8ea"/>
<circle cx="1466.8" cy="360.1" r="3.6" fill="#85c8ea"/>
<circle cx="1450.1" cy="383.4" r="3.6" fill="#85c8ea"/>
<circle cx="1484.8" cy="399.8" r="3.6" fill="#85c8ea"/>
<circle cx="1457.0" cy="395.9" r="3.6" fill="#85c8ea"/>
<circle cx="1494.8" cy="433.7" r="3.6" fill="#85c8ea"/>
<circle cx="1445.8" cy="397.4" r="3.6" fill="#85c8ea"/>
<circle cx="1486.3" cy="426.5" r="3.6" fill="#85c8ea"/>
<circle cx="1474.1" cy="393.0" r="3.6" fill="#85c8ea"/>
<circle cx="1453.9" cy="396.7" r="3.6" fill="#85c8ea"/>
<circle cx="1481.4" cy="413.6" r="3.6" fill="#85c8ea"/>
<circle cx="1480.6" cy="404.8" r="3.6" fill="#85c8ea"/>
<circle cx="1459.9" cy="342.3" r="3.6" fill="#85c8ea"/>
<circle cx="1441.0" cy="396.8" r="3.6" fill="#85c8ea"/>
<circle cx="1458.2" cy="433.9" r="3.6" fill="#85c8ea"/>
<circle cx="1473.9" cy="379.0" r="3.6" fill="#85c8ea"/>
<circle cx="1492.8" cy="436.5" r="3.6" fill="#85c8ea"/>
<circle cx="1479.4" cy="393.3" r="3.6" fill="#85c8ea"/>
<circle cx="1467.2" cy="370.6" r="3.6" fill="#85c8ea"/>
<circle cx="1461.7" cy="435.7" r="3.6" fill="#85c8ea"/>
<circle cx="1466.0" cy="369.7" r="3.6" fill="#85c8ea"/>
<circle cx="1484.7" cy="432.1" r="3.6" fill="#85c8ea"/>
<circle cx="1474.1" cy="435.9" r="3.6" fill="#85c8ea"/>
<circle cx="1444.5" cy="396.1" r="3.6" fill="#85c8ea"/>
<circle cx="1477.8" cy="386.5" r="3.6" fill="#85c8ea"/>
<circle cx="1452.0" cy="358.7" r="3.6" fill="#85c8ea"/>
<circle cx="1439.2" cy="393.8" r="3.6" fill="#85c8ea"/>
<circle cx="1447.9" cy="390.0" r="3.6" fill="#85c8ea"/>
<circle cx="1461.4" cy="367.7" r="3.6" fill="#85c8ea"/>
<circle cx="1471.8" cy="409.7" r="3.6" fill="#85c8ea"/>
<circle cx="1474.7" cy="424.8" r="3.6" fill="#85c8ea"/>
<circle cx="1455.2" cy="435.7" r="3.6" fill="#85c8ea"/>
<circle cx="1443.2" cy="381.0" r="3.6" fill="#85c8ea"/>
<circle cx="1472.4" cy="390.2" r="3.6" fill="#85c8ea"/>
<circle cx="1475.9" cy="434.4" r="3.6" fill="#85c8ea"/>
<circle cx="1455.1" cy="373.2" r="3.6" fill="#85c8ea"/>
<circle cx="1458.8" cy="411.8" r="3.6" fill="#85c8ea"/>
<circle cx="1494.1" cy="426.7" r="3.6" fill="#85c8ea"/>
<circle cx="1470.9" cy="403.5" r="3.6" fill="#85c8ea"/>
<circle cx="1473.1" cy="429.9" r="3.6" fill="#85c8ea"/>
<circle cx="1475.4" cy="377.2" r="3.6" fill="#85c8ea"/>
<circle cx="1451.9" cy="437.5" r="3.6" fill="#85c8ea"/>
<circle cx="1468.6" cy="424.8" r="3.6" fill="#85c8ea"/>
<circle cx="1452.4" cy="354.3" r="3.6" fill="#85c8ea"/>
<circle cx="1468.6" cy="374.9" r="3.6" fill="#85c8ea"/>
<circle cx="1439.6" cy="379.7" r="3.6" fill="#85c8ea"/>
<circle cx="1471.8" cy="380.6" r="3.6" fill="#85c8ea"/>
<circle cx="1474.4" cy="406.6" r="3.6" fill="#85c8ea"/>
<circle cx="1450.2" cy="403.9" r="3.6" fill="#85c8ea"/>
<circle cx="1457.2" cy="342.9" r="3.6" fill="#85c8ea"/>
<circle cx="1455.4" cy="351.7" r="3.6" fill="#85c8ea"/>
<circle cx="1464.0" cy="415.4" r="3.6" fill="#85c8ea"/>
<circle cx="1472.3" cy="404.6" r="3.6" fill="#85c8ea"/>
<circle cx="1456.3" cy="390.9" r="3.6" fill="#85c8ea"/>
<circle cx="1478.7" cy="432.1" r="3.6" fill="#85c8ea"/>
<circle cx="1466.7" cy="400.0" r="3.6" fill="#85c8ea"/>
<circle cx="1458.2" cy="403.6" r="3.6" fill="#85c8ea"/>
<circle cx="1463.1" cy="433.8" r="3.6" fill="#85c8ea"/>
<circle cx="1489.8" cy="435.1" r="3.6" fill="#85c8ea"/>
<circle cx="1458.5" cy="432.0" r="3.6" fill="#85c8ea"/>
<circle cx="1488.6" cy="407.4" r="3.6" fill="#85c8ea"/>
<circle cx="1447.5" cy="388.1" r="3.6" fill="#85c8ea"/>
<circle cx="1458.7" cy="422.3" r="3.6" fill="#85c8ea"/>
<circle cx="1450.9" cy="412.9" r="3.6" fill="#85c8ea"/>
<circle cx="1466.4" cy="435.8" r="3.6" fill="#85c8ea"/>
<circle cx="1465.4" cy="363.4" r="3.6" fill="#85c8ea"/>
<circle cx="1465.2" cy="393.8" r="3.6" fill="#85c8ea"/>
<circle cx="1485.6" cy="406.5" r="3.6" fill="#85c8ea"/>
<circle cx="1462.0" cy="407.8" r="3.6" fill="#85c8ea"/>
<circle cx="1457.5" cy="333.9" r="3.6" fill="#85c8ea"/>
<circle cx="1464.8" cy="386.1" r="3.6" fill="#85c8ea"/>
<circle cx="1469.2" cy="416.3" r="3.6" fill="#85c8ea"/>
<circle cx="1460.5" cy="362.2" r="3.6" fill="#85c8ea"/>
<circle cx="1473.3" cy="405.3" r="3.6" fill="#85c8ea"/>
<circle cx="1466.7" cy="437.0" r="3.6" fill="#85c8ea"/>
<circle cx="1443.5" cy="402.1" r="3.6" fill="#85c8ea"/>
<circle cx="1460.6" cy="427.1" r="3.6" fill="#85c8ea"/>
<circle cx="1487.2" cy="428.9" r="3.6" fill="#85c8ea"/>
<circle cx="1476.1" cy="384.6" r="3.6" fill="#85c8ea"/>
<circle cx="1464.1" cy="407.0" r="3.6" fill="#85c8ea"/>
<circle cx="1488.8" cy="410.8" r="3.6" fill="#85c8ea"/>
<circle cx="1466.4" cy="405.9" r="3.6" fill="#85c8ea"/>
<circle cx="1474.9" cy="388.3" r="3.6" fill="#85c8ea"/>
<circle cx="1459.8" cy="406.9" r="3.6" fill="#85c8ea"/>
<circle cx="1450.3" cy="377.9" r="3.6" fill="#85c8ea"/>
<circle cx="1487.5" cy="429.2" r="3.6" fill="#85c8ea"/>
<circle cx="1492.3" cy="437.5" r="3.6" fill="#85c8ea"/>
<circle cx="1486.4" cy="419.9" r="3.6" fill="#85c8ea"/>
<circle cx="1487.0" cy="421.6" r="3.6" fill="#85c8ea"/>
<circle cx="1457.2" cy="427.2" r="3.6" fill="#85c8ea"/>
<circle cx="1464.6" cy="428.0" r="3.6" fill="#85c8ea"/>
<circle cx="1476.3" cy="383.4" r="3.6" fill="#85c8ea"/>
<circle cx="1460.6" cy="346.0" r="3.6" fill="#85c8ea"/>
<circle cx="1474.3" cy="393.4" r="3.6" fill="#85c8ea"/>
<circle cx="1489.4" cy="414.8" r="3.6" fill="#85c8ea"/>
<circle cx="1481.8" cy="434.9" r="3.6" fill="#85c8ea"/>
<circle cx="1464.2" cy="357.2" r="3.6" fill="#85c8ea"/>
<circle cx="1473.1" cy="365.6" r="3.6" fill="#85c8ea"/>
<circle cx="1466.2" cy="431.4" r="3.6" fill="#85c8ea"/>
<circle cx="1467.6" cy="376.5" r="3.6" fill="#85c8ea"/>
<circle cx="1494.6" cy="424.5" r="3.6" fill="#85c8ea"/>
<circle cx="1449.3" cy="415.6" r="3.6" fill="#85c8ea"/>
<circle cx="1446.8" cy="422.6" r="3.6" fill="#85c8ea"/>
<circle cx="1486.3" cy="431.2" r="3.6" fill="#85c8ea"/>
<circle cx="1490.1" cy="426.2" r="3.6" fill="#85c8ea"/>
<circle cx="1489.3" cy="411.8" r="3.6" fill="#85c8ea"/>
<circle cx="1470.9" cy="416.8" r="3.6" fill="#85c8ea"/>
<circle cx="1457.2" cy="397.2" r="3.6" fill="#85c8ea"/>
<circle cx="1454.4" cy="346.0" r="3.6" fill="#85c8ea"/>
<circle cx="1460.1" cy="426.9" r="3.6" fill="#85c8ea"/>
<circle cx="1484.8" cy="417.7" r="3.6" fill="#85c8ea"/>
<circle cx="1473.2" cy="420.5" r="3.6" fill="#85c8ea"/>
<circle cx="1452.4" cy="390.8" r="3.6" fill="#85c8ea"/>
<circle cx="1466.1" cy="376.7" r="3.6" fill="#85c8ea"/>
<circle cx="1492.7" cy="419.9" r="3.6" fill="#85c8ea"/>
<circle cx="1479.0" cy="392.2" r="3.6" fill="#85c8ea"/>
<circle cx="1466.0" cy="433.7" r="3.6" fill="#85c8ea"/>
<circle cx="1481.0" cy="436.0" r="3.6" fill="#85c8ea"/>
<circle cx="1487.0" cy="436.6" r="3.6" fill="#85c8ea"/>
<circle cx="1452.6" cy="392.5" r="3.6" fill="#85c8ea"/>
<circle cx="1467.6" cy="408.4" r="3.6" fill="#85c8ea"/>
<circle cx="1466.7" cy="350.0" r="3.6" fill="#85c8ea"/>
<circle cx="1467.2" cy="409.4" r="3.6" fill="#85c8ea"/>
<circle cx="1460.1" cy="423.7" r="3.6" fill="#85c8ea"/>
<circle cx="1464.1" cy="378.2" r="3.6" fill="#85c8ea"/>
<circle cx="1454.9" cy="383.1" r="3.6" fill="#85c8ea"/>
<circle cx="1447.5" cy="358.3" r="3.6" fill="#85c8ea"/>
<circle cx="1464.1" cy="394.6" r="3.6" fill="#85c8ea"/>
<circle cx="1481.8" cy="435.8" r="3.6" fill="#85c8ea"/>
<circle cx="1460.6" cy="399.8" r="3.6" fill="#85c8ea"/>
<circle cx="1460.7" cy="382.4" r="3.6" fill="#85c8ea"/>
<circle cx="1458.1" cy="436.4" r="3.6" fill="#85c8ea"/>
<circle cx="1473.5" cy="401.3" r="3.6" fill="#85c8ea"/>
<circle cx="1476.1" cy="424.8" r="3.6" fill="#85c8ea"/>
<circle cx="1491.6" cy="416.9" r="3.6" fill="#85c8ea"/>
<circle cx="1463.8" cy="433.2" r="3.6" fill="#85c8ea"/>
<circle cx="1490.4" cy="409.8" r="3.6" fill="#85c8ea"/>
<circle cx="1451.8" cy="408.8" r="3.6" fill="#85c8ea"/>
<circle cx="1448.0" cy="425.0" r="3.6" fill="#85c8ea"/>
<circle cx="1462.4" cy="371.8" r="3.6" fill="#85c8ea"/>
<circle cx="1470.2" cy="386.5" r="3.6" fill="#85c8ea"/>
<circle cx="1463.6" cy="422.6" r="3.6" fill="#85c8ea"/>
<circle cx="1480.3" cy="425.1" r="3.6" fill="#85c8ea"/>
<circle cx="1470.4" cy="421.2" r="3.6" fill="#85c8ea"/>
<circle cx="1444.8" cy="401.3" r="3.6" fill="#85c8ea"/>
<circle cx="1486.0" cy="404.7" r="3.6" fill="#85c8ea"/>
<circle cx="1451.7" cy="432.4" r="3.6" fill="#85c8ea"/>
<circle cx="1454.6" cy="358.6" r="3.6" fill="#85c8ea"/>
<circle cx="1469.2" cy="420.5" r="3.6" fill="#85c8ea"/>
<circle cx="1458.2" cy="368.5" r="3.6" fill="#85c8ea"/>
<circle cx="1480.9" cy="412.1" r="3.6" fill="#85c8ea"/>
<circle cx="1470.9" cy="398.8" r="3.6" fill="#85c8ea"/>
<circle cx="1477.9" cy="419.6" r="3.6" fill="#85c8ea"/>
<circle cx="1464.6" cy="353.0" r="3.6" fill="#85c8ea"/>
<circle cx="1444.0" cy="368.6" r="3.6" fill="#85c8ea"/>
<circle cx="1438.3" cy="404.6" r="3.6" fill="#85c8ea"/>
<circle cx="1457.8" cy="358.9" r="3.6" fill="#85c8ea"/>
<circle cx="1445.4" cy="404.2" r="3.6" fill="#85c8ea"/>
<circle cx="1489.9" cy="436.1" r="3.6" fill="#85c8ea"/>
<circle cx="1471.1" cy="405.6" r="3.6" fill="#85c8ea"/>
<circle cx="1480.6" cy="390.8" r="3.6" fill="#85c8ea"/>
<circle cx="1454.4" cy="367.3" r="3.6" fill="#85c8ea"/>
<circle cx="1473.9" cy="380.8" r="3.6" fill="#85c8ea"/>
<circle cx="1463.4" cy="407.4" r="3.6" fill="#85c8ea"/>
<circle cx="1480.2" cy="398.4" r="3.6" fill="#85c8ea"/>
<circle cx="1472.4" cy="384.9" r="3.6" fill="#85c8ea"/>
<circle cx="1470.0" cy="421.4" r="3.6" fill="#85c8ea"/>
<circle cx="1460.5" cy="395.5" r="3.6" fill="#85c8ea"/>
<circle cx="1457.2" cy="403.0" r="3.6" fill="#85c8ea"/>
<circle cx="1466.3" cy="415.7" r="3.6" fill="#85c8ea"/>
<circle cx="1472.8" cy="389.6" r="3.6" fill="#85c8ea"/>
<circle cx="1464.9" cy="403.1" r="3.6" fill="#85c8ea"/>
<circle cx="1473.1" cy="431.9" r="3.6" fill="#85c8ea"/>
<circle cx="1479.6" cy="396.4" r="3.6" fill="#85c8ea"/>
<circle cx="1487.5" cy="437.4" r="3.6" fill="#85c8ea"/>
<circle cx="1471.8" cy="398.6" r="3.6" fill="#85c8ea"/>
<circle cx="1462.6" cy="423.5" r="3.6" fill="#85c8ea"/>
<circle cx="1493.1" cy="422.4" r="3.6" fill="#85c8ea"/>
<circle cx="1480.0" cy="417.9" r="3.6" fill="#85c8ea"/>
<circle cx="1472.2" cy="401.5" r="3.6" fill="#85c8ea"/>
<circle cx="1471.0" cy="381.4" r="3.6" fill="#85c8ea"/>
<circle cx="1489.6" cy="409.6" r="3.6" fill="#85c8ea"/>
<circle cx="1471.2" cy="393.3" r="3.6" fill="#85c8ea"/>
<circle cx="1459.0" cy="343.6" r="3.6" fill="#85c8ea"/>
<circle cx="1461.2" cy="425.1" r="3.6" fill="#85c8ea"/>
<circle cx="1455.4" cy="415.0" r="3.6" fill="#85c8ea"/>
<circle cx="1484.2" cy="398.4" r="3.6" fill="#85c8ea"/>
<circle cx="1474.7" cy="377.9" r="3.6" fill="#85c8ea"/>
<circle cx="1462.3" cy="356.1" r="3.6" fill="#85c8ea"/>
<circle cx="1488.8" cy="428.4" r="3.6" fill="#85c8ea"/>
<circle cx="1468.0" cy="397.8" r="3.6" fill="#85c8ea"/>
<circle cx="1484.9" cy="421.6" r="3.6" fill="#85c8ea"/>
<circle cx="1477.0" cy="423.8" r="3.6" fill="#85c8ea"/>
<circle cx="1469.3" cy="384.2" r="3.6" fill="#85c8ea"/>
<circle cx="1471.3" cy="411.3" r="3.6" fill="#85c8ea"/>
<circle cx="1459.6" cy="438.0" r="3.6" fill="#85c8ea"/>
<circle cx="1465.0" cy="425.9" r="3.6" fill="#85c8ea"/>
<circle cx="1493.1" cy="422.5" r="3.6" fill="#85c8ea"/>
<circle cx="1464.6" cy="386.7" r="3.6" fill="#85c8ea"/>
<circle cx="1468.1" cy="408.8" r="3.6" fill="#85c8ea"/>
<circle cx="1465.0" cy="374.1" r="3.6" fill="#85c8ea"/>
<circle cx="1482.2" cy="432.7" r="3.6" fill="#85c8ea"/>
<circle cx="1473.7" cy="388.2" r="3.6" fill="#85c8ea"/>
<circle cx="1447.0" cy="400.2" r="3.6" fill="#85c8ea"/>
<circle cx="1468.4" cy="414.5" r="3.6" fill="#85c8ea"/>
<circle cx="1489.7" cy="408.9" r="3.6" fill="#85c8ea"/>
<circle cx="1489.7" cy="411.9" r="3.6" fill="#85c8ea"/>
<circle cx="1473.3" cy="394.3" r="3.6" fill="#85c8ea"/>
<circle cx="1455.3" cy="359.4" r="3.6" fill="#85c8ea"/>
<circle cx="1481.5" cy="420.3" r="3.6" fill="#85c8ea"/>
<circle cx="1468.8" cy="428.9" r="3.6" fill="#85c8ea"/>
<circle cx="1456.3" cy="386.6" r="3.6" fill="#85c8ea"/>
<circle cx="1439.9" cy="409.5" r="3.6" fill="#85c8ea"/>
<circle cx="1470.2" cy="396.3" r="3.6" fill="#85c8ea"/>
<circle cx="1454.4" cy="371.5" r="3.6" fill="#85c8ea"/>
<circle cx="1492.7" cy="431.5" r="3.6" fill="#85c8ea"/>
<circle cx="1448.2" cy="384.0" r="3.6" fill="#85c8ea"/>
<circle cx="1446.1" cy="366.9" r="3.6" fill="#85c8ea"/>
<circle cx="1484.5" cy="426.8" r="3.6" fill="#85c8ea"/>
<circle cx="1461.5" cy="385.6" r="3.6" fill="#85c8ea"/>
<circle cx="1442.9" cy="420.5" r="3.6" fill="#85c8ea"/>
<circle cx="1489.6" cy="428.3" r="3.6" fill="#85c8ea"/>
<circle cx="1468.4" cy="379.7" r="3.6" fill="#85c8ea"/>
<circle cx="1464.0" cy="420.8" r="3.6" fill="#85c8ea"/>
<circle cx="1461.5" cy="431.8" r="3.6" fill="#85c8ea"/>
<circle cx="1457.6" cy="404.6" r="3.6" fill="#85c8ea"/>
<circle cx="1479.0" cy="402.0" r="3.6" fill="#85c8ea"/>
<circle cx="1474.7" cy="411.9" r="3.6" fill="#85c8ea"/>
<circle cx="1464.2" cy="438.0" r="3.6" fill="#85c8ea"/>
<circle cx="1465.8" cy="381.0" r="3.6" fill="#85c8ea"/>
<circle cx="1474.5" cy="371.8" r="3.6" fill="#85c8ea"/>
<circle cx="1460.0" cy="393.2" r="3.6" fill="#85c8ea"/>
<circle cx="1479.2" cy="401.2" r="3.6" fill="#85c8ea"/>
<circle cx="1482.9" cy="433.9" r="3.6" fill="#85c8ea"/>
<circle cx="1456.0" cy="374.7" r="3.6" fill="#85c8ea"/>
<circle cx="1457.2" cy="421.2" r="3.6" fill="#85c8ea"/>
<circle cx="1490.4" cy="432.1" r="3.6" fill="#85c8ea"/>
<circle cx="1456.4" cy="381.4" r="3.6" fill="#85c8ea"/>
<circle cx="1469.3" cy="381.7" r="3.6" fill="#85c8ea"/>
<circle cx="1464.3" cy="353.1" r="3.6" fill="#85c8ea"/>
<circle cx="1467.8" cy="356.8" r="3.6" fill="#85c8ea"/>
<circle cx="1472.6" cy="409.9" r="3.6" fill="#85c8ea"/>
<circle cx="1445.4" cy="363.1" r="3.6" fill="#85c8ea"/>
<circle cx="1481.8" cy="394.3" r="3.6" fill="#85c8ea"/>
<circle cx="1486.9" cy="414.1" r="3.6" fill="#85c8ea"/>
<circle cx="1449.9" cy="356.8" r="3.6" fill="#85c8ea"/>
<circle cx="1463.4" cy="345.2" r="3.6" fill="#85c8ea"/>
<circle cx="1452.8" cy="375.3" r="3.6" fill="#85c8ea"/>
<circle cx="1481.5" cy="418.6" r="3.6" fill="#85c8ea"/>
<circle cx="1461.1" cy="391.5" r="3.6" fill="#85c8ea"/>
<circle cx="1464.6" cy="388.2" r="3.6" fill="#85c8ea"/>
<circle cx="1456.7" cy="394.6" r="3.6" fill="#85c8ea"/>
<circle cx="1453.4" cy="383.9" r="3.6" fill="#85c8ea"/>
<circle cx="1438.2" cy="385.2" r="3.6" fill="#85c8ea"/>
<circle cx="1466.1" cy="390.3" r="3.6" fill="#85c8ea"/>
<circle cx="1444.5" cy="386.1" r="3.6" fill="#85c8ea"/>
<circle cx="1473.3" cy="429.9" r="3.6" fill="#85c8ea"/>
<circle cx="1458.4" cy="407.6" r="3.6" fill="#85c8ea"/>
<circle cx="1485.8" cy="432.3" r="3.6" fill="#85c8ea"/>
<circle cx="1478.5" cy="415.6" r="3.6" fill="#85c8ea"/>
<circle cx="1472.4" cy="420.3" r="3.6" fill="#85c8ea"/>
<circle cx="1459.8" cy="399.7" r="3.6" fill="#85c8ea"/>
<circle cx="1466.1" cy="407.0" r="3.6" fill="#85c8ea"/>
<circle cx="1469.9" cy="408.9" r="3.6" fill="#85c8ea"/>
<circle cx="1490.9" cy="426.4" r="3.6" fill="#85c8ea"/>
<circle cx="1439.5" cy="381.1" r="3.6" fill="#85c8ea"/>
<circle cx="1438.7" cy="389.4" r="3.6" fill="#85c8ea"/>
<circle cx="1479.4" cy="426.9" r="3.6" fill="#85c8ea"/>
<circle cx="1448.5" cy="387.8" r="3.6" fill="#85c8ea"/>
<circle cx="1488.9" cy="431.2" r="3.6" fill="#85c8ea"/>
<circle cx="1481.5" cy="419.8" r="3.6" fill="#85c8ea"/>
<circle cx="1471.0" cy="423.7" r="3.6" fill="#85c8ea"/>
<circle cx="1466.6" cy="398.3" r="3.6" fill="#85c8ea"/>
<circle cx="1494.9" cy="431.9" r="3.6" fill="#85c8ea"/>
<circle cx="1489.1" cy="434.0" r="3.6" fill="#85c8ea"/>
<circle cx="1453.8" cy="359.2" r="3.6" fill="#85c8ea"/>
<circle cx="1478.2" cy="437.1" r="3.6" fill="#85c8ea"/>
<circle cx="1458.4" cy="407.8" r="3.6" fill="#85c8ea"/>
<circle cx="1475.6" cy="430.9" r="3.6" fill="#85c8ea"/>
<circle cx="1456.0" cy="438.1" r="3.6" fill="#85c8ea"/>
<circle cx="1451.3" cy="438.3" r="3.6" fill="#85c8ea"/>
<circle cx="1457.1" cy="371.5" r="3.6" fill="#85c8ea"/>
<circle cx="1448.5" cy="416.8" r="3.6" fill="#85c8ea"/>
<circle cx="1488.8" cy="411.4" r="3.6" fill="#85c8ea"/>
<circle cx="1476.8" cy="401.5" r="3.6" fill="#85c8ea"/>
<circle cx="1474.0" cy="413.5" r="3.6" fill="#85c8ea"/>
<circle cx="1459.8" cy="374.9" r="3.6" fill="#85c8ea"/>
<circle cx="1482.7" cy="433.1" r="3.6" fill="#85c8ea"/>
<circle cx="1374.3" cy="163.4" r="3.6" fill="#85c8ea"/>
<circle cx="1381.2" cy="182.0" r="3.6" fill="#85c8ea"/>
<circle cx="1386.2" cy="183.5" r="3.6" fill="#85c8ea"/>
<circle cx="1398.3" cy="187.4" r="3.6" fill="#85c8ea"/>
<circle cx="1418.6" cy="183.2" r="3.6" fill="#85c8ea"/>
<circle cx="1386.2" cy="199.0" r="3.6" fill="#85c8ea"/>
<circle cx="1412.7" cy="202.0" r="3.6" fill="#85c8ea"/>
<circle cx="1422.6" cy="198.0" r="3.6" fill="#85c8ea"/>
<circle cx="1423.3" cy="204.5" r="3.6" fill="#85c8ea"/>
<circle cx="1392.4" cy="212.0" r="3.6" fill="#85c8ea"/>
<circle cx="1389.2" cy="217.9" r="3.6" fill="#85c8ea"/>
<circle cx="1397.8" cy="217.1" r="3.6" fill="#85c8ea"/>
<circle cx="1409.0" cy="221.9" r="3.6" fill="#85c8ea"/>
<circle cx="1403.0" cy="236.2" r="3.6" fill="#85c8ea"/>
<circle cx="1411.0" cy="235.7" r="3.6" fill="#85c8ea"/>
<circle cx="1425.0" cy="236.5" r="3.6" fill="#85c8ea"/>
<circle cx="1376.5" cy="241.9" r="3.6" fill="#85c8ea"/>
<circle cx="1438.7" cy="243.2" r="3.6" fill="#85c8ea"/>
<circle cx="1381.7" cy="250.0" r="3.6" fill="#85c8ea"/>
<circle cx="1419.4" cy="250.0" r="3.6" fill="#85c8ea"/>
<circle cx="1370.8" cy="261.5" r="3.6" fill="#85c8ea"/>
<circle cx="1428.3" cy="260.5" r="3.6" fill="#85c8ea"/>
<circle cx="1416.2" cy="263.7" r="3.6" fill="#85c8ea"/>
<circle cx="1441.7" cy="261.7" r="3.6" fill="#85c8ea"/>
<circle cx="1439.2" cy="263.7" r="3.6" fill="#85c8ea"/>
<circle cx="1396.3" cy="270.9" r="3.6" fill="#85c8ea"/>
<circle cx="1410.7" cy="272.1" r="3.6" fill="#85c8ea"/>
<circle cx="1421.4" cy="268.9" r="3.6" fill="#85c8ea"/>
<circle cx="1425.0" cy="276.3" r="3.6" fill="#85c8ea"/>
<circle cx="1430.5" cy="279.6" r="3.6" fill="#85c8ea"/>
<circle cx="1436.0" cy="280.0" r="3.6" fill="#85c8ea"/>
<circle cx="1367.4" cy="313.3" r="3.6" fill="#85c8ea"/>
<circle cx="1381.2" cy="318.8" r="3.6" fill="#85c8ea"/>
<circle cx="1393.4" cy="320.5" r="3.6" fill="#85c8ea"/>
<circle cx="1377.5" cy="366.6" r="3.6" fill="#85c8ea"/>
<circle cx="1387.9" cy="342.3" r="3.6" fill="#85c8ea"/>
<circle cx="1392.9" cy="343.0" r="3.6" fill="#85c8ea"/>
<circle cx="1389.7" cy="347.3" r="3.6" fill="#85c8ea"/>
<circle cx="1394.6" cy="341.8" r="3.6" fill="#85c8ea"/>
<circle cx="1399.6" cy="362.4" r="3.6" fill="#85c8ea"/>
<circle cx="1403.3" cy="369.0" r="3.6" fill="#85c8ea"/>
<circle cx="1404.0" cy="377.2" r="3.6" fill="#85c8ea"/>
<circle cx="1406.5" cy="396.3" r="3.6" fill="#85c8ea"/>
<circle cx="1399.0" cy="403.7" r="3.6" fill="#85c8ea"/>
<circle cx="1411.2" cy="404.2" r="3.6" fill="#85c8ea"/>
<circle cx="1376.8" cy="414.9" r="3.6" fill="#85c8ea"/>
<circle cx="1367.4" cy="418.6" r="3.6" fill="#85c8ea"/>
<circle cx="1359.0" cy="425.5" r="3.6" fill="#85c8ea"/>
<circle cx="1374.8" cy="426.0" r="3.6" fill="#85c8ea"/>
<circle cx="1380.5" cy="432.2" r="3.6" fill="#85c8ea"/>
<circle cx="1359.0" cy="436.4" r="3.6" fill="#85c8ea"/>
<circle cx="1337.2" cy="437.9" r="3.6" fill="#85c8ea"/>
<circle cx="1406.0" cy="426.3" r="3.6" fill="#85c8ea"/>
<circle cx="1398.3" cy="437.7" r="3.6" fill="#85c8ea"/>
<circle cx="1403.0" cy="435.5" r="3.6" fill="#85c8ea"/>
<circle cx="1408.0" cy="433.5" r="3.6" fill="#85c8ea"/>
<circle cx="1413.0" cy="432.0" r="3.6" fill="#85c8ea"/>
<circle cx="1418.0" cy="430.5" r="3.6" fill="#85c8ea"/>
<circle cx="1423.0" cy="429.0" r="3.6" fill="#85c8ea"/>
<circle cx="1428.0" cy="428.0" r="3.6" fill="#85c8ea"/>
<circle cx="1423.0" cy="283.5" r="3.6" fill="#85c8ea"/>
<circle cx="1430.0" cy="281.0" r="3.6" fill="#85c8ea"/>
<circle cx="1436.5" cy="282.0" r="3.6" fill="#85c8ea"/>
<circle cx="1440.5" cy="286.0" r="3.6" fill="#85c8ea"/>
<circle cx="1442.0" cy="288.5" r="3.6" fill="#85c8ea"/>
<circle cx="1413.0" cy="294.5" r="3.6" fill="#85c8ea"/>
<circle cx="1428.0" cy="293.5" r="3.6" fill="#85c8ea"/>
<circle cx="1431.5" cy="301.0" r="3.6" fill="#85c8ea"/>
<circle cx="1399.5" cy="301.5" r="3.6" fill="#85c8ea"/>
<circle cx="1404.0" cy="301.0" r="3.6" fill="#85c8ea"/>
<circle cx="1410.0" cy="301.5" r="3.6" fill="#85c8ea"/>
<circle cx="1415.0" cy="304.5" r="3.6" fill="#85c8ea"/>
<circle cx="1418.0" cy="300.0" r="3.6" fill="#85c8ea"/>
<circle cx="1420.0" cy="309.0" r="3.6" fill="#85c8ea"/>
<circle cx="1423.0" cy="313.0" r="3.6" fill="#85c8ea"/>
<circle cx="1426.5" cy="316.0" r="3.6" fill="#85c8ea"/>
<circle cx="1403.5" cy="309.5" r="3.6" fill="#85c8ea"/>
<circle cx="1399.5" cy="314.5" r="3.6" fill="#85c8ea"/>
<circle cx="1406.0" cy="318.0" r="3.6" fill="#85c8ea"/>
<circle cx="1407.5" cy="322.5" r="3.6" fill="#85c8ea"/>
<circle cx="1430.0" cy="319.0" r="3.6" fill="#85c8ea"/>
<circle cx="1447.0" cy="317.0" r="3.6" fill="#85c8ea"/>
<circle cx="1422.0" cy="323.5" r="3.6" fill="#85c8ea"/>
<circle cx="1401.0" cy="326.0" r="3.6" fill="#85c8ea"/>
<circle cx="1414.5" cy="328.5" r="3.6" fill="#85c8ea"/>
<circle cx="1402.5" cy="333.0" r="3.6" fill="#85c8ea"/>
<circle cx="1406.0" cy="337.5" r="3.6" fill="#85c8ea"/>
<circle cx="1422.0" cy="337.0" r="3.6" fill="#85c8ea"/>
<circle cx="1432.0" cy="333.0" r="3.6" fill="#85c8ea"/>
<circle cx="1436.0" cy="336.5" r="3.6" fill="#85c8ea"/>
<circle cx="1444.5" cy="326.0" r="3.6" fill="#85c8ea"/>
<circle cx="1446.5" cy="331.0" r="3.6" fill="#85c8ea"/>
<circle cx="1454.0" cy="328.5" r="3.6" fill="#85c8ea"/>
<circle cx="1456.5" cy="333.0" r="3.6" fill="#85c8ea"/>
<circle cx="1456.5" cy="338.0" r="3.6" fill="#85c8ea"/>
<circle cx="1443.0" cy="343.5" r="3.6" fill="#85c8ea"/>
<circle cx="1447.0" cy="340.0" r="3.6" fill="#85c8ea"/>
<circle cx="1425.0" cy="345.0" r="3.6" fill="#85c8ea"/>
<circle cx="1408.5" cy="348.5" r="3.6" fill="#85c8ea"/>
<circle cx="1426.0" cy="352.0" r="3.6" fill="#85c8ea"/>
<circle cx="1407.5" cy="355.0" r="3.6" fill="#85c8ea"/>
<circle cx="1438.5" cy="348.5" r="3.6" fill="#85c8ea"/>
<circle cx="1454.5" cy="349.0" r="3.6" fill="#85c8ea"/>
<circle cx="1457.5" cy="349.5" r="3.6" fill="#85c8ea"/>
<circle cx="1469.0" cy="349.5" r="3.6" fill="#85c8ea"/>
<circle cx="1420.5" cy="359.5" r="3.6" fill="#85c8ea"/>
<circle cx="1424.0" cy="365.0" r="3.6" fill="#85c8ea"/>
<circle cx="1430.5" cy="362.0" r="3.6" fill="#85c8ea"/>
<circle cx="1428.5" cy="371.0" r="3.6" fill="#85c8ea"/>
<circle cx="1432.0" cy="373.0" r="3.6" fill="#85c8ea"/>
<circle cx="1440.5" cy="358.0" r="3.6" fill="#85c8ea"/>
<circle cx="1444.0" cy="362.5" r="3.6" fill="#85c8ea"/>
<circle cx="1423.0" cy="383.0" r="3.6" fill="#85c8ea"/>
<circle cx="1428.0" cy="381.0" r="3.6" fill="#85c8ea"/>
<circle cx="1432.5" cy="379.5" r="3.6" fill="#85c8ea"/>
<circle cx="1433.0" cy="396.0" r="3.6" fill="#85c8ea"/>
<circle cx="1434.0" cy="400.0" r="3.6" fill="#85c8ea"/>
<circle cx="1434.5" cy="407.0" r="3.6" fill="#85c8ea"/>
<circle cx="1421.5" cy="412.5" r="3.6" fill="#85c8ea"/>
<circle cx="1427.5" cy="412.0" r="3.6" fill="#85c8ea"/>
<circle cx="1415.0" cy="419.5" r="3.6" fill="#85c8ea"/>
<circle cx="1418.5" cy="420.5" r="3.6" fill="#85c8ea"/>
<circle cx="1435.5" cy="425.0" r="3.6" fill="#85c8ea"/>
<circle cx="1426.0" cy="427.0" r="3.6" fill="#85c8ea"/>
<circle cx="1586.9" cy="420.1" r="3.6" fill="#e0607e"/>
<circle cx="1592.1" cy="422.3" r="3.6" fill="#e0607e"/>
<circle cx="1579.9" cy="429.0" r="3.6" fill="#e0607e"/>
<circle cx="1577.2" cy="433.3" r="3.6" fill="#e0607e"/>
<circle cx="1611.3" cy="415.6" r="3.6" fill="#e0607e"/>
<circle cx="1594.7" cy="401.9" r="3.6" fill="#e0607e"/>
<circle cx="1619.2" cy="427.0" r="3.6" fill="#e0607e"/>
<circle cx="1576.8" cy="434.3" r="3.6" fill="#e0607e"/>
<circle cx="1579.5" cy="407.8" r="3.6" fill="#e0607e"/>
<circle cx="1587.9" cy="437.0" r="3.6" fill="#e0607e"/>
<circle cx="1580.9" cy="433.6" r="3.6" fill="#e0607e"/>
<circle cx="1594.6" cy="420.7" r="3.6" fill="#e0607e"/>
<circle cx="1578.6" cy="427.4" r="3.6" fill="#e0607e"/>
<circle cx="1603.9" cy="397.8" r="3.6" fill="#e0607e"/>
<circle cx="1586.1" cy="418.3" r="3.6" fill="#e0607e"/>
<circle cx="1589.2" cy="406.3" r="3.6" fill="#e0607e"/>
<circle cx="1616.0" cy="385.3" r="3.6" fill="#e0607e"/>
<circle cx="1580.3" cy="416.8" r="3.6" fill="#e0607e"/>
<circle cx="1617.6" cy="437.7" r="3.6" fill="#e0607e"/>
<circle cx="1594.3" cy="408.9" r="3.6" fill="#e0607e"/>
<circle cx="1604.5" cy="383.4" r="3.6" fill="#e0607e"/>
<circle cx="1584.7" cy="420.9" r="3.6" fill="#e0607e"/>
<circle cx="1576.7" cy="438.3" r="3.6" fill="#e0607e"/>
<circle cx="1582.9" cy="406.7" r="3.6" fill="#e0607e"/>
<circle cx="1608.8" cy="391.7" r="3.6" fill="#e0607e"/>
<circle cx="1588.9" cy="429.0" r="3.6" fill="#e0607e"/>
<circle cx="1580.4" cy="413.0" r="3.6" fill="#e0607e"/>
<circle cx="1580.3" cy="434.9" r="3.6" fill="#e0607e"/>
<circle cx="1579.2" cy="424.0" r="3.6" fill="#e0607e"/>
<circle cx="1612.5" cy="425.8" r="3.6" fill="#e0607e"/>
<circle cx="1619.1" cy="385.3" r="3.6" fill="#e0607e"/>
<circle cx="1584.0" cy="405.5" r="3.6" fill="#e0607e"/>
<circle cx="1576.7" cy="436.0" r="3.6" fill="#e0607e"/>
<circle cx="1577.4" cy="413.1" r="3.6" fill="#e0607e"/>
<circle cx="1611.3" cy="434.5" r="3.6" fill="#e0607e"/>
<circle cx="1577.7" cy="420.4" r="3.6" fill="#e0607e"/>
<circle cx="1577.7" cy="417.8" r="3.6" fill="#e0607e"/>
<circle cx="1578.8" cy="415.0" r="3.6" fill="#e0607e"/>
<circle cx="1584.4" cy="404.2" r="3.6" fill="#e0607e"/>
<circle cx="1589.2" cy="411.9" r="3.6" fill="#e0607e"/>
<circle cx="1576.8" cy="430.1" r="3.6" fill="#e0607e"/>
<circle cx="1583.1" cy="398.4" r="3.6" fill="#e0607e"/>
<circle cx="1610.4" cy="405.8" r="3.6" fill="#e0607e"/>
<circle cx="1610.3" cy="388.6" r="3.6" fill="#e0607e"/>
<circle cx="1598.0" cy="406.9" r="3.6" fill="#e0607e"/>
<circle cx="1631.2" cy="392.7" r="3.6" fill="#e0607e"/>
<circle cx="1581.8" cy="430.8" r="3.6" fill="#e0607e"/>
<circle cx="1617.6" cy="435.1" r="3.6" fill="#e0607e"/>
<circle cx="1585.0" cy="433.2" r="3.6" fill="#e0607e"/>
<circle cx="1582.1" cy="438.0" r="3.6" fill="#e0607e"/>
<circle cx="1628.4" cy="409.7" r="3.6" fill="#e0607e"/>
<circle cx="1611.3" cy="433.6" r="3.6" fill="#e0607e"/>
<circle cx="1607.4" cy="438.6" r="3.6" fill="#e0607e"/>
<circle cx="1614.8" cy="436.7" r="3.6" fill="#e0607e"/>
<circle cx="1585.3" cy="421.6" r="3.6" fill="#e0607e"/>
<circle cx="1601.6" cy="385.1" r="3.6" fill="#e0607e"/>
<circle cx="1581.5" cy="416.4" r="3.6" fill="#e0607e"/>
<circle cx="1579.3" cy="423.3" r="3.6" fill="#e0607e"/>
<circle cx="1636.4" cy="408.8" r="3.6" fill="#e0607e"/>
<circle cx="1597.3" cy="396.2" r="3.6" fill="#e0607e"/>
<circle cx="1586.9" cy="420.7" r="3.6" fill="#e0607e"/>
<circle cx="1576.6" cy="412.5" r="3.6" fill="#e0607e"/>
<circle cx="1582.9" cy="412.5" r="3.6" fill="#e0607e"/>
<circle cx="1613.6" cy="384.5" r="3.6" fill="#e0607e"/>
<circle cx="1588.8" cy="416.5" r="3.6" fill="#e0607e"/>
<circle cx="1627.8" cy="435.9" r="3.6" fill="#e0607e"/>
<circle cx="1582.6" cy="417.8" r="3.6" fill="#e0607e"/>
<circle cx="1599.6" cy="411.5" r="3.6" fill="#e0607e"/>
<circle cx="1584.3" cy="430.9" r="3.6" fill="#e0607e"/>
<circle cx="1587.1" cy="423.1" r="3.6" fill="#e0607e"/>
<circle cx="1576.8" cy="425.2" r="3.6" fill="#e0607e"/>
<circle cx="1599.1" cy="417.5" r="3.6" fill="#e0607e"/>
<circle cx="1611.9" cy="383.2" r="3.6" fill="#e0607e"/>
<circle cx="1576.8" cy="426.3" r="3.6" fill="#e0607e"/>
<circle cx="1616.6" cy="415.8" r="3.6" fill="#e0607e"/>
<circle cx="1597.1" cy="391.1" r="3.6" fill="#e0607e"/>
<circle cx="1576.7" cy="420.3" r="3.6" fill="#e0607e"/>
<circle cx="1578.6" cy="411.2" r="3.6" fill="#e0607e"/>
<circle cx="1578.0" cy="428.9" r="3.6" fill="#e0607e"/>
<circle cx="1595.4" cy="392.4" r="3.6" fill="#e0607e"/>
<circle cx="1599.0" cy="433.2" r="3.6" fill="#e0607e"/>
<circle cx="1592.2" cy="432.7" r="3.6" fill="#e0607e"/>
<circle cx="1612.3" cy="399.7" r="3.6" fill="#e0607e"/>
<circle cx="1613.3" cy="410.8" r="3.6" fill="#e0607e"/>
<circle cx="1588.0" cy="406.4" r="3.6" fill="#e0607e"/>
<circle cx="1589.2" cy="417.6" r="3.6" fill="#e0607e"/>
<circle cx="1578.1" cy="428.9" r="3.6" fill="#e0607e"/>
<circle cx="1636.7" cy="431.0" r="3.6" fill="#e0607e"/>
<circle cx="1587.2" cy="418.3" r="3.6" fill="#e0607e"/>
<circle cx="1598.4" cy="434.9" r="3.6" fill="#e0607e"/>
<circle cx="1585.1" cy="418.3" r="3.6" fill="#e0607e"/>
<circle cx="1613.7" cy="382.9" r="3.6" fill="#e0607e"/>
<circle cx="1577.3" cy="431.3" r="3.6" fill="#e0607e"/>
<circle cx="1578.4" cy="423.6" r="3.6" fill="#e0607e"/>
<circle cx="1600.8" cy="410.2" r="3.6" fill="#e0607e"/>
<circle cx="1584.1" cy="434.7" r="3.6" fill="#e0607e"/>
<circle cx="1576.6" cy="436.2" r="3.6" fill="#e0607e"/>
<circle cx="1578.1" cy="415.1" r="3.6" fill="#e0607e"/>
<circle cx="1620.8" cy="387.1" r="3.6" fill="#e0607e"/>
<circle cx="1579.8" cy="422.7" r="3.6" fill="#e0607e"/>
<circle cx="1576.9" cy="437.3" r="3.6" fill="#e0607e"/>
<circle cx="1578.3" cy="433.2" r="3.6" fill="#e0607e"/>
<circle cx="1576.8" cy="430.9" r="3.6" fill="#e0607e"/>
<circle cx="1608.0" cy="427.8" r="3.6" fill="#e0607e"/>
<circle cx="1576.9" cy="429.7" r="3.6" fill="#e0607e"/>
<circle cx="1582.1" cy="436.1" r="3.6" fill="#e0607e"/>
<circle cx="1595.0" cy="389.4" r="3.6" fill="#e0607e"/>
<circle cx="1633.9" cy="423.4" r="3.6" fill="#e0607e"/>
<circle cx="1598.8" cy="434.1" r="3.6" fill="#e0607e"/>
<circle cx="1578.4" cy="425.8" r="3.6" fill="#e0607e"/>
<circle cx="1590.7" cy="436.6" r="3.6" fill="#e0607e"/>
<circle cx="1589.8" cy="419.4" r="3.6" fill="#e0607e"/>
<circle cx="1578.8" cy="432.1" r="3.6" fill="#e0607e"/>
<circle cx="1594.9" cy="410.5" r="3.6" fill="#e0607e"/>
<circle cx="1619.4" cy="411.7" r="3.6" fill="#e0607e"/>
<circle cx="1577.5" cy="417.2" r="3.6" fill="#e0607e"/>
<circle cx="1604.7" cy="420.4" r="3.6" fill="#e0607e"/>
<circle cx="1584.2" cy="405.9" r="3.6" fill="#e0607e"/>
<circle cx="1611.6" cy="388.8" r="3.6" fill="#e0607e"/>
<circle cx="1611.1" cy="418.6" r="3.6" fill="#e0607e"/>
<circle cx="1611.7" cy="432.5" r="3.6" fill="#e0607e"/>
<circle cx="1599.2" cy="421.5" r="3.6" fill="#e0607e"/>
<circle cx="1585.6" cy="412.8" r="3.6" fill="#e0607e"/>
<circle cx="1583.6" cy="414.7" r="3.6" fill="#e0607e"/>
<circle cx="1624.1" cy="423.8" r="3.6" fill="#e0607e"/>
<circle cx="1597.9" cy="421.4" r="3.6" fill="#e0607e"/>
<circle cx="1582.5" cy="405.2" r="3.6" fill="#e0607e"/>
<circle cx="1632.1" cy="408.4" r="3.6" fill="#e0607e"/>
<circle cx="1577.8" cy="415.7" r="3.6" fill="#e0607e"/>
<circle cx="1607.6" cy="384.1" r="3.6" fill="#e0607e"/>
<circle cx="1600.5" cy="397.3" r="3.6" fill="#e0607e"/>
<circle cx="1595.9" cy="413.0" r="3.6" fill="#e0607e"/>
<circle cx="1581.8" cy="419.8" r="3.6" fill="#e0607e"/>
<circle cx="1599.0" cy="383.6" r="3.6" fill="#e0607e"/>
<circle cx="1602.7" cy="402.8" r="3.6" fill="#e0607e"/>
<circle cx="1577.9" cy="413.3" r="3.6" fill="#e0607e"/>
<circle cx="1611.4" cy="378.9" r="3.6" fill="#e0607e"/>
<circle cx="1593.0" cy="406.2" r="3.6" fill="#e0607e"/>
<circle cx="1585.9" cy="412.0" r="3.6" fill="#e0607e"/>
<circle cx="1596.3" cy="435.1" r="3.6" fill="#e0607e"/>
<circle cx="1609.6" cy="387.9" r="3.6" fill="#e0607e"/>
<circle cx="1580.9" cy="425.2" r="3.6" fill="#e0607e"/>
<circle cx="1577.4" cy="424.3" r="3.6" fill="#e0607e"/>
<circle cx="1613.3" cy="416.9" r="3.6" fill="#e0607e"/>
<circle cx="1634.4" cy="429.3" r="3.6" fill="#e0607e"/>
<circle cx="1587.8" cy="429.7" r="3.6" fill="#e0607e"/>
<circle cx="1578.6" cy="426.4" r="3.6" fill="#e0607e"/>
<circle cx="1589.5" cy="426.6" r="3.6" fill="#e0607e"/>
<circle cx="1609.3" cy="427.8" r="3.6" fill="#e0607e"/>
<circle cx="1581.0" cy="410.0" r="3.6" fill="#e0607e"/>
<circle cx="1578.6" cy="437.7" r="3.6" fill="#e0607e"/>
<circle cx="1586.6" cy="416.8" r="3.6" fill="#e0607e"/>
<circle cx="1581.5" cy="431.9" r="3.6" fill="#e0607e"/>
<circle cx="1605.0" cy="428.7" r="3.6" fill="#e0607e"/>
<circle cx="1590.8" cy="394.4" r="3.6" fill="#e0607e"/>
<circle cx="1579.8" cy="416.7" r="3.6" fill="#e0607e"/>
<circle cx="1610.6" cy="421.4" r="3.6" fill="#e0607e"/>
<circle cx="1589.7" cy="402.0" r="3.6" fill="#e0607e"/>
<circle cx="1580.9" cy="429.0" r="3.6" fill="#e0607e"/>
<circle cx="1578.2" cy="417.0" r="3.6" fill="#e0607e"/>
<circle cx="1592.2" cy="385.7" r="3.6" fill="#e0607e"/>
<circle cx="1626.4" cy="409.8" r="3.6" fill="#e0607e"/>
<circle cx="1604.0" cy="437.5" r="3.6" fill="#e0607e"/>
<circle cx="1600.4" cy="429.9" r="3.6" fill="#e0607e"/>
<circle cx="1587.4" cy="398.9" r="3.6" fill="#e0607e"/>
<circle cx="1580.2" cy="435.9" r="3.6" fill="#e0607e"/>
<circle cx="1603.3" cy="389.4" r="3.6" fill="#e0607e"/>
<circle cx="1580.4" cy="428.4" r="3.6" fill="#e0607e"/>
<circle cx="1622.5" cy="411.2" r="3.6" fill="#e0607e"/>
<circle cx="1587.6" cy="411.8" r="3.6" fill="#e0607e"/>
<circle cx="1596.9" cy="424.9" r="3.6" fill="#e0607e"/>
<circle cx="1591.6" cy="397.1" r="3.6" fill="#e0607e"/>
<circle cx="1584.8" cy="413.5" r="3.6" fill="#e0607e"/>
<circle cx="1577.3" cy="424.9" r="3.6" fill="#e0607e"/>
<circle cx="1626.5" cy="388.4" r="3.6" fill="#e0607e"/>
<circle cx="1584.1" cy="412.2" r="3.6" fill="#e0607e"/>
<circle cx="1592.6" cy="431.6" r="3.6" fill="#e0607e"/>
<circle cx="1578.9" cy="412.3" r="3.6" fill="#e0607e"/>
<circle cx="1600.8" cy="397.5" r="3.6" fill="#e0607e"/>
<circle cx="1623.5" cy="390.4" r="3.6" fill="#e0607e"/>
<circle cx="1582.5" cy="431.1" r="3.6" fill="#e0607e"/>
<circle cx="1592.9" cy="413.2" r="3.6" fill="#e0607e"/>
<circle cx="1587.8" cy="430.4" r="3.6" fill="#e0607e"/>
<circle cx="1603.2" cy="434.7" r="3.6" fill="#e0607e"/>
<circle cx="1611.4" cy="435.6" r="3.6" fill="#e0607e"/>
<circle cx="1613.3" cy="394.4" r="3.6" fill="#e0607e"/>
<circle cx="1582.6" cy="414.1" r="3.6" fill="#e0607e"/>
<circle cx="1604.7" cy="422.3" r="3.6" fill="#e0607e"/>
<circle cx="1607.9" cy="431.7" r="3.6" fill="#e0607e"/>
<circle cx="1576.9" cy="421.6" r="3.6" fill="#e0607e"/>
<circle cx="1585.8" cy="436.5" r="3.6" fill="#e0607e"/>
<circle cx="1603.6" cy="384.9" r="3.6" fill="#e0607e"/>
<circle cx="1599.1" cy="404.8" r="3.6" fill="#e0607e"/>
<circle cx="1577.1" cy="413.9" r="3.6" fill="#e0607e"/>
<circle cx="1590.7" cy="411.6" r="3.6" fill="#e0607e"/>
<circle cx="1581.8" cy="402.0" r="3.6" fill="#e0607e"/>
<circle cx="1583.1" cy="420.8" r="3.6" fill="#e0607e"/>
<circle cx="1581.2" cy="405.3" r="3.6" fill="#e0607e"/>
<circle cx="1582.0" cy="406.9" r="3.6" fill="#e0607e"/>
<circle cx="1588.1" cy="391.4" r="3.6" fill="#e0607e"/>
<circle cx="1596.4" cy="411.3" r="3.6" fill="#e0607e"/>
<circle cx="1576.7" cy="416.4" r="3.6" fill="#e0607e"/>
<circle cx="1608.5" cy="411.4" r="3.6" fill="#e0607e"/>
<circle cx="1600.1" cy="413.6" r="3.6" fill="#e0607e"/>
<circle cx="1626.4" cy="434.1" r="3.6" fill="#e0607e"/>
<circle cx="1615.9" cy="410.9" r="3.6" fill="#e0607e"/>
<circle cx="1592.1" cy="417.2" r="3.6" fill="#e0607e"/>
<circle cx="1627.9" cy="391.2" r="3.6" fill="#e0607e"/>
<circle cx="1612.2" cy="417.9" r="3.6" fill="#e0607e"/>
<circle cx="1578.8" cy="424.6" r="3.6" fill="#e0607e"/>
<circle cx="1610.8" cy="391.1" r="3.6" fill="#e0607e"/>
<circle cx="1578.3" cy="432.6" r="3.6" fill="#e0607e"/>
<circle cx="1599.3" cy="402.7" r="3.6" fill="#e0607e"/>
<circle cx="1576.9" cy="419.9" r="3.6" fill="#e0607e"/>
<circle cx="1629.3" cy="429.3" r="3.6" fill="#e0607e"/>
<circle cx="1577.3" cy="432.0" r="3.6" fill="#e0607e"/>
<circle cx="1579.4" cy="437.0" r="3.6" fill="#e0607e"/>
<circle cx="1576.8" cy="426.8" r="3.6" fill="#e0607e"/>
<circle cx="1577.6" cy="436.0" r="3.6" fill="#e0607e"/>
<circle cx="1582.7" cy="419.5" r="3.6" fill="#e0607e"/>
<circle cx="1596.3" cy="391.3" r="3.6" fill="#e0607e"/>
<circle cx="1585.6" cy="417.6" r="3.6" fill="#e0607e"/>
<circle cx="1592.9" cy="436.1" r="3.6" fill="#e0607e"/>
<circle cx="1631.1" cy="431.7" r="3.6" fill="#e0607e"/>
<circle cx="1580.5" cy="422.4" r="3.6" fill="#e0607e"/>
<circle cx="1593.3" cy="407.6" r="3.6" fill="#e0607e"/>
<circle cx="1593.5" cy="386.2" r="3.6" fill="#e0607e"/>
<circle cx="1579.7" cy="431.3" r="3.6" fill="#e0607e"/>
<circle cx="1578.5" cy="417.8" r="3.6" fill="#e0607e"/>
<circle cx="1601.9" cy="433.7" r="3.6" fill="#e0607e"/>
<circle cx="1577.6" cy="437.9" r="3.6" fill="#e0607e"/>
<circle cx="1618.7" cy="412.0" r="3.6" fill="#e0607e"/>
<circle cx="1622.0" cy="414.9" r="3.6" fill="#e0607e"/>
<circle cx="1589.9" cy="424.3" r="3.6" fill="#e0607e"/>
<circle cx="1594.8" cy="394.7" r="3.6" fill="#e0607e"/>
<circle cx="1587.6" cy="404.7" r="3.6" fill="#e0607e"/>
<circle cx="1634.0" cy="435.8" r="3.6" fill="#e0607e"/>
<circle cx="1627.3" cy="431.0" r="3.6" fill="#e0607e"/>
<circle cx="1577.2" cy="432.6" r="3.6" fill="#e0607e"/>
<circle cx="1626.6" cy="389.6" r="3.6" fill="#e0607e"/>
<circle cx="1599.1" cy="413.0" r="3.6" fill="#e0607e"/>
<circle cx="1636.7" cy="417.2" r="3.6" fill="#e0607e"/>
<circle cx="1596.0" cy="424.2" r="3.6" fill="#e0607e"/>
<circle cx="1594.8" cy="389.1" r="3.6" fill="#e0607e"/>
<circle cx="1619.1" cy="429.2" r="3.6" fill="#e0607e"/>
<circle cx="1579.6" cy="423.1" r="3.6" fill="#e0607e"/>
<circle cx="1607.9" cy="386.0" r="3.6" fill="#e0607e"/>
<circle cx="1585.1" cy="407.7" r="3.6" fill="#e0607e"/>
<circle cx="1579.9" cy="421.5" r="3.6" fill="#e0607e"/>
<circle cx="1631.5" cy="425.4" r="3.6" fill="#e0607e"/>
<circle cx="1606.2" cy="418.2" r="3.6" fill="#e0607e"/>
<circle cx="1612.1" cy="403.9" r="3.6" fill="#e0607e"/>
<circle cx="1577.2" cy="431.0" r="3.6" fill="#e0607e"/>
<circle cx="1596.7" cy="434.5" r="3.6" fill="#e0607e"/>
<circle cx="1593.3" cy="430.1" r="3.6" fill="#e0607e"/>
<circle cx="1624.9" cy="438.2" r="3.6" fill="#e0607e"/>
<circle cx="1576.7" cy="430.2" r="3.6" fill="#e0607e"/>
<circle cx="1606.0" cy="418.4" r="3.6" fill="#e0607e"/>
<circle cx="1576.6" cy="435.0" r="3.6" fill="#e0607e"/>
<circle cx="1612.9" cy="417.7" r="3.6" fill="#e0607e"/>
<circle cx="1622.3" cy="438.3" r="3.6" fill="#e0607e"/>
<circle cx="1607.9" cy="405.5" r="3.6" fill="#e0607e"/>
<circle cx="1582.8" cy="415.7" r="3.6" fill="#e0607e"/>
<circle cx="1598.5" cy="401.1" r="3.6" fill="#e0607e"/>
<circle cx="1581.3" cy="416.0" r="3.6" fill="#e0607e"/>
<circle cx="1577.9" cy="428.8" r="3.6" fill="#e0607e"/>
<circle cx="1602.7" cy="403.6" r="3.6" fill="#e0607e"/>
<circle cx="1586.7" cy="419.6" r="3.6" fill="#e0607e"/>
<circle cx="1576.7" cy="422.4" r="3.6" fill="#e0607e"/>
<circle cx="1592.3" cy="415.3" r="3.6" fill="#e0607e"/>
<circle cx="1581.1" cy="424.3" r="3.6" fill="#e0607e"/>
<circle cx="1583.5" cy="411.9" r="3.6" fill="#e0607e"/>
<circle cx="1622.1" cy="424.6" r="3.6" fill="#e0607e"/>
<circle cx="1606.2" cy="425.3" r="3.6" fill="#e0607e"/>
<circle cx="1578.0" cy="432.5" r="3.6" fill="#e0607e"/>
<circle cx="1636.6" cy="430.3" r="3.6" fill="#e0607e"/>
<circle cx="1591.6" cy="422.1" r="3.6" fill="#e0607e"/>
<circle cx="1578.1" cy="437.9" r="3.6" fill="#e0607e"/>
<circle cx="1581.2" cy="438.1" r="3.6" fill="#e0607e"/>
<circle cx="1577.1" cy="431.1" r="3.6" fill="#e0607e"/>
<circle cx="1579.9" cy="417.9" r="3.6" fill="#e0607e"/>
<circle cx="1582.6" cy="427.5" r="3.6" fill="#e0607e"/>
<circle cx="1636.7" cy="434.6" r="3.6" fill="#e0607e"/>
<circle cx="1590.0" cy="431.3" r="3.6" fill="#e0607e"/>
<circle cx="1592.2" cy="391.9" r="3.6" fill="#e0607e"/>
<circle cx="1610.8" cy="388.4" r="3.6" fill="#e0607e"/>
<circle cx="1606.6" cy="376.2" r="3.6" fill="#e0607e"/>
<circle cx="1579.4" cy="435.7" r="3.6" fill="#e0607e"/>
<circle cx="1604.7" cy="409.3" r="3.6" fill="#e0607e"/>
<circle cx="1597.6" cy="385.1" r="3.6" fill="#e0607e"/>
<circle cx="1609.4" cy="421.9" r="3.6" fill="#e0607e"/>
<circle cx="1598.6" cy="424.2" r="3.6" fill="#e0607e"/>
<circle cx="1601.2" cy="417.5" r="3.6" fill="#e0607e"/>
<circle cx="1589.9" cy="405.7" r="3.6" fill="#e0607e"/>
<circle cx="1607.4" cy="402.7" r="3.6" fill="#e0607e"/>
<circle cx="1596.8" cy="396.5" r="3.6" fill="#e0607e"/>
<circle cx="1611.6" cy="426.0" r="3.6" fill="#e0607e"/>
<circle cx="1610.5" cy="383.1" r="3.6" fill="#e0607e"/>
<circle cx="1576.9" cy="429.9" r="3.6" fill="#e0607e"/>
<circle cx="1611.2" cy="400.0" r="3.6" fill="#e0607e"/>
<circle cx="1579.9" cy="412.1" r="3.6" fill="#e0607e"/>
<circle cx="1588.6" cy="413.7" r="3.6" fill="#e0607e"/>
<circle cx="1610.9" cy="401.1" r="3.6" fill="#e0607e"/>
<circle cx="1607.0" cy="385.9" r="3.6" fill="#e0607e"/>
<circle cx="1593.4" cy="433.1" r="3.6" fill="#e0607e"/>
<circle cx="1597.7" cy="398.8" r="3.6" fill="#e0607e"/>
<circle cx="1626.3" cy="426.6" r="3.6" fill="#e0607e"/>
<circle cx="1578.5" cy="437.9" r="3.6" fill="#e0607e"/>
<circle cx="1632.2" cy="419.6" r="3.6" fill="#e0607e"/>
<circle cx="1584.1" cy="435.5" r="3.6" fill="#e0607e"/>
<circle cx="1581.9" cy="403.3" r="3.6" fill="#e0607e"/>
<circle cx="1596.0" cy="389.4" r="3.6" fill="#e0607e"/>
<circle cx="1579.5" cy="422.6" r="3.6" fill="#e0607e"/>
<circle cx="1595.6" cy="390.6" r="3.6" fill="#e0607e"/>
<circle cx="1577.0" cy="425.7" r="3.6" fill="#e0607e"/>
<circle cx="1590.6" cy="431.2" r="3.6" fill="#e0607e"/>
<circle cx="1585.0" cy="430.9" r="3.6" fill="#e0607e"/>
<circle cx="1591.1" cy="418.1" r="3.6" fill="#e0607e"/>
<circle cx="1633.8" cy="426.6" r="3.6" fill="#e0607e"/>
<circle cx="1579.4" cy="424.2" r="3.6" fill="#e0607e"/>
<circle cx="1591.0" cy="394.0" r="3.6" fill="#e0607e"/>
<circle cx="1599.8" cy="385.0" r="3.6" fill="#e0607e"/>
<circle cx="1610.0" cy="431.0" r="3.6" fill="#e0607e"/>
<circle cx="1598.1" cy="437.9" r="3.6" fill="#e0607e"/>
<circle cx="1598.9" cy="435.9" r="3.6" fill="#e0607e"/>
<circle cx="1576.6" cy="417.4" r="3.6" fill="#e0607e"/>
<circle cx="1602.8" cy="418.6" r="3.6" fill="#e0607e"/>
<circle cx="1577.8" cy="430.0" r="3.6" fill="#e0607e"/>
<circle cx="1578.1" cy="428.6" r="3.6" fill="#e0607e"/>
<circle cx="1602.7" cy="430.1" r="3.6" fill="#e0607e"/>
<circle cx="1582.1" cy="407.9" r="3.6" fill="#e0607e"/>
<circle cx="1576.7" cy="435.8" r="3.6" fill="#e0607e"/>
<circle cx="1624.6" cy="414.7" r="3.6" fill="#e0607e"/>
<circle cx="1626.4" cy="431.2" r="3.6" fill="#e0607e"/>
<circle cx="1587.9" cy="410.5" r="3.6" fill="#e0607e"/>
<circle cx="1600.8" cy="411.8" r="3.6" fill="#e0607e"/>
<circle cx="1592.1" cy="412.5" r="3.6" fill="#e0607e"/>
<circle cx="1635.2" cy="429.3" r="3.6" fill="#e0607e"/>
<circle cx="1632.2" cy="406.9" r="3.6" fill="#e0607e"/>
<circle cx="1577.1" cy="431.3" r="3.6" fill="#e0607e"/>
<circle cx="1605.3" cy="389.9" r="3.6" fill="#e0607e"/>
<circle cx="1577.1" cy="426.1" r="3.6" fill="#e0607e"/>
<circle cx="1585.8" cy="431.7" r="3.6" fill="#e0607e"/>
<circle cx="1627.6" cy="414.2" r="3.6" fill="#e0607e"/>
<circle cx="1577.0" cy="434.0" r="3.6" fill="#e0607e"/>
<circle cx="1585.5" cy="402.0" r="3.6" fill="#e0607e"/>
<circle cx="1577.1" cy="416.4" r="3.6" fill="#e0607e"/>
<circle cx="1586.1" cy="401.0" r="3.6" fill="#e0607e"/>
<circle cx="1611.8" cy="432.0" r="3.6" fill="#e0607e"/>
<circle cx="1578.6" cy="418.9" r="3.6" fill="#e0607e"/>
<circle cx="1610.3" cy="420.3" r="3.6" fill="#e0607e"/>
<circle cx="1576.9" cy="419.2" r="3.6" fill="#e0607e"/>
<circle cx="1605.0" cy="435.9" r="3.6" fill="#e0607e"/>
<circle cx="1580.9" cy="405.6" r="3.6" fill="#e0607e"/>
<circle cx="1585.5" cy="436.1" r="3.6" fill="#e0607e"/>
<circle cx="1579.6" cy="406.8" r="3.6" fill="#e0607e"/>
<circle cx="1603.0" cy="432.3" r="3.6" fill="#e0607e"/>
<circle cx="1576.7" cy="429.3" r="3.6" fill="#e0607e"/>
<circle cx="1593.7" cy="434.8" r="3.6" fill="#e0607e"/>
<circle cx="1591.6" cy="421.2" r="3.6" fill="#e0607e"/>
<circle cx="1600.5" cy="399.3" r="3.6" fill="#e0607e"/>
<circle cx="1616.2" cy="433.4" r="3.6" fill="#e0607e"/>
<circle cx="1611.1" cy="416.9" r="3.6" fill="#e0607e"/>
<circle cx="1595.1" cy="404.4" r="3.6" fill="#e0607e"/>
<circle cx="1576.8" cy="429.9" r="3.6" fill="#e0607e"/>
<circle cx="1577.6" cy="433.5" r="3.6" fill="#e0607e"/>
<circle cx="1600.3" cy="400.3" r="3.6" fill="#e0607e"/>
<circle cx="1609.8" cy="429.9" r="3.6" fill="#e0607e"/>
<circle cx="1636.0" cy="423.4" r="3.6" fill="#e0607e"/>
<circle cx="1612.6" cy="417.1" r="3.6" fill="#e0607e"/>
<circle cx="1584.5" cy="422.6" r="3.6" fill="#e0607e"/>
<circle cx="1594.9" cy="432.5" r="3.6" fill="#e0607e"/>
<circle cx="1588.4" cy="391.8" r="3.6" fill="#e0607e"/>
<circle cx="1586.4" cy="432.7" r="3.6" fill="#e0607e"/>
<circle cx="1589.6" cy="421.9" r="3.6" fill="#e0607e"/>
<circle cx="1596.6" cy="417.3" r="3.6" fill="#e0607e"/>
<circle cx="1580.3" cy="410.4" r="3.6" fill="#e0607e"/>
<circle cx="1607.3" cy="436.0" r="3.6" fill="#e0607e"/>
<circle cx="1591.9" cy="416.9" r="3.6" fill="#e0607e"/>
<circle cx="1579.0" cy="433.2" r="3.6" fill="#e0607e"/>
<circle cx="1580.1" cy="416.7" r="3.6" fill="#e0607e"/>
<circle cx="1579.3" cy="410.5" r="3.6" fill="#e0607e"/>
<circle cx="1578.8" cy="429.3" r="3.6" fill="#e0607e"/>
<circle cx="1594.1" cy="414.1" r="3.6" fill="#e0607e"/>
<circle cx="1581.9" cy="421.0" r="3.6" fill="#e0607e"/>
<circle cx="1684.4" cy="176.0" r="3.6" fill="#e0607e"/>
<circle cx="1666.0" cy="234.0" r="3.6" fill="#e0607e"/>
<circle cx="1651.2" cy="245.4" r="3.6" fill="#e0607e"/>
<circle cx="1674.0" cy="243.9" r="3.6" fill="#e0607e"/>
<circle cx="1669.7" cy="253.8" r="3.6" fill="#e0607e"/>
<circle cx="1708.9" cy="260.5" r="3.6" fill="#e0607e"/>
<circle cx="1649.4" cy="262.7" r="3.6" fill="#e0607e"/>
<circle cx="1655.6" cy="274.6" r="3.6" fill="#e0607e"/>
<circle cx="1646.5" cy="284.5" r="3.6" fill="#e0607e"/>
<circle cx="1648.5" cy="286.5" r="3.6" fill="#e0607e"/>
<circle cx="1677.9" cy="292.5" r="3.6" fill="#e0607e"/>
<circle cx="1732.4" cy="283.4" r="3.6" fill="#e0607e"/>
<circle cx="1622.4" cy="303.0" r="3.6" fill="#e0607e"/>
<circle cx="1626.4" cy="306.7" r="3.6" fill="#e0607e"/>
<circle cx="1647.5" cy="310.1" r="3.6" fill="#e0607e"/>
<circle cx="1622.4" cy="313.6" r="3.6" fill="#e0607e"/>
<circle cx="1627.6" cy="317.0" r="3.6" fill="#e0607e"/>
<circle cx="1636.3" cy="317.0" r="3.6" fill="#e0607e"/>
<circle cx="1676.2" cy="318.5" r="3.6" fill="#e0607e"/>
<circle cx="1682.1" cy="320.5" r="3.6" fill="#e0607e"/>
<circle cx="1656.9" cy="323.5" r="3.6" fill="#e0607e"/>
<circle cx="1651.7" cy="329.0" r="3.6" fill="#e0607e"/>
<circle cx="1617.0" cy="334.1" r="3.6" fill="#e0607e"/>
<circle cx="1625.7" cy="333.2" r="3.6" fill="#e0607e"/>
<circle cx="1736.1" cy="334.6" r="3.6" fill="#e0607e"/>
<circle cx="1657.4" cy="337.9" r="3.6" fill="#e0607e"/>
<circle cx="1659.8" cy="337.4" r="3.6" fill="#e0607e"/>
<circle cx="1646.2" cy="340.6" r="3.6" fill="#e0607e"/>
<circle cx="1648.7" cy="339.3" r="3.6" fill="#e0607e"/>
<circle cx="1628.4" cy="345.8" r="3.6" fill="#e0607e"/>
<circle cx="1645.7" cy="344.3" r="3.6" fill="#e0607e"/>
<circle cx="1656.9" cy="348.8" r="3.6" fill="#e0607e"/>
<circle cx="1640.5" cy="348.8" r="3.6" fill="#e0607e"/>
<circle cx="1621.4" cy="350.7" r="3.6" fill="#e0607e"/>
<circle cx="1666.0" cy="349.8" r="3.6" fill="#e0607e"/>
<circle cx="1669.0" cy="353.7" r="3.6" fill="#e0607e"/>
<circle cx="1635.0" cy="354.2" r="3.6" fill="#e0607e"/>
<circle cx="1623.2" cy="355.2" r="3.6" fill="#e0607e"/>
<circle cx="1643.0" cy="357.2" r="3.6" fill="#e0607e"/>
<circle cx="1617.0" cy="358.7" r="3.6" fill="#e0607e"/>
<circle cx="1684.6" cy="356.4" r="3.6" fill="#e0607e"/>
<circle cx="1718.8" cy="355.4" r="3.6" fill="#e0607e"/>
<circle cx="1662.8" cy="359.2" r="3.6" fill="#e0607e"/>
<circle cx="1651.2" cy="361.1" r="3.6" fill="#e0607e"/>
<circle cx="1649.5" cy="363.0" r="3.6" fill="#e0607e"/>
<circle cx="1607.6" cy="364.9" r="3.6" fill="#e0607e"/>
<circle cx="1640.0" cy="364.1" r="3.6" fill="#e0607e"/>
<circle cx="1638.5" cy="368.0" r="3.6" fill="#e0607e"/>
<circle cx="1659.6" cy="369.1" r="3.6" fill="#e0607e"/>
<circle cx="1715.8" cy="368.6" r="3.6" fill="#e0607e"/>
<circle cx="1609.0" cy="369.6" r="3.6" fill="#e0607e"/>
<circle cx="1623.9" cy="368.6" r="3.6" fill="#e0607e"/>
<circle cx="1628.1" cy="367.1" r="3.6" fill="#e0607e"/>
<circle cx="1637.5" cy="370.3" r="3.6" fill="#e0607e"/>
<circle cx="1630.1" cy="372.0" r="3.6" fill="#e0607e"/>
<circle cx="1596.2" cy="377.2" r="3.6" fill="#e0607e"/>
<circle cx="1685.1" cy="378.2" r="3.6" fill="#e0607e"/>
<circle cx="1663.8" cy="381.7" r="3.6" fill="#e0607e"/>
<circle cx="1655.6" cy="384.2" r="3.6" fill="#e0607e"/>
<circle cx="1672.2" cy="389.6" r="3.6" fill="#e0607e"/>
<circle cx="1695.3" cy="394.1" r="3.6" fill="#e0607e"/>
<circle cx="1689.1" cy="398.0" r="3.6" fill="#e0607e"/>
<circle cx="1743.1" cy="403.7" r="3.6" fill="#e0607e"/>
<circle cx="1696.3" cy="408.2" r="3.6" fill="#e0607e"/>
<circle cx="1685.8" cy="413.7" r="3.6" fill="#e0607e"/>
<circle cx="1685.4" cy="418.6" r="3.6" fill="#e0607e"/>
<circle cx="1674.7" cy="418.6" r="3.6" fill="#e0607e"/>
<circle cx="1670.5" cy="420.1" r="3.6" fill="#e0607e"/>
<circle cx="1660.8" cy="417.6" r="3.6" fill="#e0607e"/>
<circle cx="1650.4" cy="438.4" r="3.6" fill="#e0607e"/>
<circle cx="1604.5" cy="376.5" r="3.6" fill="#e0607e"/>
<circle cx="1611.0" cy="378.0" r="3.6" fill="#e0607e"/>
<circle cx="1617.0" cy="377.0" r="3.6" fill="#e0607e"/>
<circle cx="1622.0" cy="376.0" r="3.6" fill="#e0607e"/>
<circle cx="1629.5" cy="383.0" r="3.6" fill="#e0607e"/>
<circle cx="1640.5" cy="385.0" r="3.6" fill="#e0607e"/>
<circle cx="1643.5" cy="383.5" r="3.6" fill="#e0607e"/>
<circle cx="1637.5" cy="387.5" r="3.6" fill="#e0607e"/>
<circle cx="1648.5" cy="390.0" r="3.6" fill="#e0607e"/>
<circle cx="1645.5" cy="392.5" r="3.6" fill="#e0607e"/>
<circle cx="1642.0" cy="396.0" r="3.6" fill="#e0607e"/>
<circle cx="1654.5" cy="395.0" r="3.6" fill="#e0607e"/>
<circle cx="1660.5" cy="396.5" r="3.6" fill="#e0607e"/>
<circle cx="1656.5" cy="400.0" r="3.6" fill="#e0607e"/>
<circle cx="1661.0" cy="404.0" r="3.6" fill="#e0607e"/>
<circle cx="1664.0" cy="408.0" r="3.6" fill="#e0607e"/>
<circle cx="1644.0" cy="400.0" r="3.6" fill="#e0607e"/>
<circle cx="1648.0" cy="405.0" r="3.6" fill="#e0607e"/>
<circle cx="1650.0" cy="410.0" r="3.6" fill="#e0607e"/>
<circle cx="1652.0" cy="414.0" r="3.6" fill="#e0607e"/>
<circle cx="1645.0" cy="418.0" r="3.6" fill="#e0607e"/>
<circle cx="1647.0" cy="426.0" r="3.6" fill="#e0607e"/>
<circle cx="1640.0" cy="423.0" r="3.6" fill="#e0607e"/>
<circle cx="1636.0" cy="428.0" r="3.6" fill="#e0607e"/>
<circle cx="1618.7" cy="393.3" r="3.6" fill="#e0607e"/>
<circle cx="1623.5" cy="398.0" r="3.6" fill="#e0607e"/>
<circle cx="1628.2" cy="394.9" r="3.6" fill="#e0607e"/>
<circle cx="1621.9" cy="402.8" r="3.6" fill="#e0607e"/>
<circle cx="1629.8" cy="401.2" r="3.6" fill="#e0607e"/>
<circle cx="1634.5" cy="398.0" r="3.6" fill="#e0607e"/>
<circle cx="1625.0" cy="407.5" r="3.6" fill="#e0607e"/>
<circle cx="1633.0" cy="405.9" r="3.6" fill="#e0607e"/>
<circle cx="1618.7" cy="409.1" r="3.6" fill="#e0607e"/>
<circle cx="1628.2" cy="412.3" r="3.6" fill="#e0607e"/>
<circle cx="1637.7" cy="404.4" r="3.6" fill="#e0607e"/>
<circle cx="1617.1" cy="399.6" r="3.6" fill="#e0607e"/>
<circle cx="1613.0" cy="388.5" r="3.6" fill="#e0607e"/>
<circle cx="1620.0" cy="386.0" r="3.6" fill="#e0607e"/>
</g>
<line x1="1291.5" y1="441.2" x2="1303.5" y2="441.2" stroke="#231815" stroke-width="1.8" />
<text x="1283.5" y="453.8" font-size="33.7" fill="#000" stroke="#000" stroke-width="0.55" text-anchor="end">0</text>
<line x1="1291.5" y1="393.7857142857143" x2="1303.5" y2="393.7857142857143" stroke="#231815" stroke-width="1.8" />
<text x="1283.5" y="406.3857142857143" font-size="33.7" fill="#000" stroke="#000" stroke-width="0.55" text-anchor="end">50</text>
<line x1="1291.5" y1="346.37142857142857" x2="1303.5" y2="346.37142857142857" stroke="#231815" stroke-width="1.8" />
<text x="1283.5" y="358.9714285714286" font-size="33.7" fill="#000" stroke="#000" stroke-width="0.55" text-anchor="end">100</text>
<line x1="1291.5" y1="298.95714285714286" x2="1303.5" y2="298.95714285714286" stroke="#231815" stroke-width="1.8" />
<text x="1283.5" y="311.5571428571429" font-size="33.7" fill="#000" stroke="#000" stroke-width="0.55" text-anchor="end">150</text>
<line x1="1291.5" y1="251.54285714285714" x2="1303.5" y2="251.54285714285714" stroke="#231815" stroke-width="1.8" />
<text x="1283.5" y="264.14285714285717" font-size="33.7" fill="#000" stroke="#000" stroke-width="0.55" text-anchor="end">200</text>
<line x1="1291.5" y1="204.12857142857143" x2="1303.5" y2="204.12857142857143" stroke="#231815" stroke-width="1.8" />
<text x="1283.5" y="216.72857142857143" font-size="33.7" fill="#000" stroke="#000" stroke-width="0.55" text-anchor="end">250</text>
<line x1="1291.5" y1="156.71428571428572" x2="1303.5" y2="156.71428571428572" stroke="#231815" stroke-width="1.8" />
<text x="1283.5" y="169.31428571428572" font-size="33.7" fill="#000" stroke="#000" stroke-width="0.55" text-anchor="end">300</text>
<line x1="1291.5" y1="109.30000000000001" x2="1303.5" y2="109.30000000000001" stroke="#231815" stroke-width="1.8" />
<text x="1283.5" y="121.9" font-size="33.7" fill="#000" stroke="#000" stroke-width="0.55" text-anchor="end">350</text>
<line x1="1303.5" y1="441.2" x2="1303.5" y2="450.7" stroke="#231815" stroke-width="2.1" />
<text x="1300.7" y="487.5" font-size="33.7" fill="#000" stroke="#000" stroke-width="0.55" text-anchor="middle">-6</text>
<line x1="1381.8" y1="441.2" x2="1381.8" y2="450.7" stroke="#231815" stroke-width="2.1" />
<text x="1378.8" y="487.5" font-size="33.7" fill="#000" stroke="#000" stroke-width="0.55" text-anchor="middle">-4</text>
<line x1="1460.1" y1="441.2" x2="1460.1" y2="450.7" stroke="#231815" stroke-width="2.1" />
<text x="1456.8" y="487.5" font-size="33.7" fill="#000" stroke="#000" stroke-width="0.55" text-anchor="middle">-2</text>
<line x1="1538.4" y1="441.2" x2="1538.4" y2="450.7" stroke="#231815" stroke-width="2.1" />
<text x="1534.4" y="487.5" font-size="33.7" fill="#000" stroke="#000" stroke-width="0.55" text-anchor="middle">0</text>
<line x1="1616.7" y1="441.2" x2="1616.7" y2="450.7" stroke="#231815" stroke-width="2.1" />
<text x="1613.3" y="487.5" font-size="33.7" fill="#000" stroke="#000" stroke-width="0.55" text-anchor="middle">2</text>
<line x1="1695.0" y1="441.2" x2="1695.0" y2="450.7" stroke="#231815" stroke-width="2.1" />
<text x="1690.0" y="487.5" font-size="33.7" fill="#000" stroke="#000" stroke-width="0.55" text-anchor="middle">4</text>
<line x1="1773.3" y1="441.2" x2="1773.3" y2="450.7" stroke="#231815" stroke-width="2.1" />
<text x="1768.8" y="487.5" font-size="33.7" fill="#000" stroke="#000" stroke-width="0.55" text-anchor="middle">6</text>
<text x="1411.5" y="518" font-size="33.7" fill="#000" stroke="#000" stroke-width="0.55" textLength="252.1" lengthAdjust="spacingAndGlyphs">Log₂ fold-change</text>
<text transform="translate(1199.8 270.5) rotate(-90)" font-size="33.7" text-anchor="middle" fill="#231815" stroke="#231815" stroke-width="0.4">-Log<tspan font-size="19.5" dy="10.5">10</tspan><tspan dy="-10.5">(Padj)</tspan></text>
<circle cx="1386.2" cy="560.7" r="6.9" fill="#d7145a"/>
<circle cx="1386.2" cy="598.6" r="6.9" fill="#3eb1e3"/>
<text x="1405.4" y="570" font-size="33.7" fill="#000" stroke="#000" stroke-width="0.55" textLength="365.7" lengthAdjust="spacingAndGlyphs">Log₂ FC &gt; 1, Padj &lt; 0.01</text>
<text x="1405.4" y="609" font-size="33.7" fill="#000" stroke="#000" stroke-width="0.55" textLength="376.2" lengthAdjust="spacingAndGlyphs">Log₂ FC &lt; -1, Padj &lt; 0.01</text>
</g>
<g id="panelE">
<text x="1791.5" y="40" font-size="50" fill="#000" font-weight="bold">E</text>
<rect x="1884.3" y="81.7" width="209.70000000000005" height="35.6" fill="#d7145a"/>
<rect x="1884.3" y="183.1" width="219.70000000000005" height="35.7" fill="#d7145a"/>
<path d="M1884.3,49.5 V278.7 H2362.7" stroke="#231815" stroke-width="2" fill="none" />
<line x1="1884.3" y1="278.7" x2="1884.3" y2="289.5" stroke="#231815" stroke-width="2" />
<line x1="2003.8999999999999" y1="278.7" x2="2003.8999999999999" y2="289.5" stroke="#231815" stroke-width="2" />
<line x1="2123.5" y1="278.7" x2="2123.5" y2="289.5" stroke="#231815" stroke-width="2" />
<line x1="2243.1" y1="278.7" x2="2243.1" y2="289.5" stroke="#231815" stroke-width="2" />
<line x1="2362.7" y1="278.7" x2="2362.7" y2="289.5" stroke="#231815" stroke-width="2" />
<text x="1894" y="146" font-size="27.8" fill="#595757" font-weight="bold" font-style="italic" textLength="145" lengthAdjust="spacingAndGlyphs" stroke="#595757" stroke-width="0.5">DNA binding</text>
<text x="1894" y="245.1" font-size="27.8" fill="#595757" font-weight="bold" font-style="italic" textLength="342" lengthAdjust="spacingAndGlyphs" stroke="#595757" stroke-width="0.5">NADH dehydrogenase activity</text>
<text x="1866" y="167.6" font-size="33.7" fill="#000" stroke="#000" stroke-width="0.55" text-anchor="middle" transform="rotate(-90 1866 167.6)">Up-regulated</text>
<rect x="1884.3" y="340" width="136.0" height="35.30000000000001" fill="#3eb1e3"/>
<rect x="1884.3" y="430" width="156.70000000000005" height="35.69999999999999" fill="#3eb1e3"/>
<rect x="1884.3" y="520" width="310.70000000000005" height="36.299999999999955" fill="#3eb1e3"/>
<path d="M1884.3,310.5 V612.4 H2362.7" stroke="#231815" stroke-width="2" fill="none" />
<line x1="1884.3" y1="612.4" x2="1884.3" y2="624.4" stroke="#231815" stroke-width="2" />
<text x="1884.3" y="656.1" font-size="33.7" fill="#000" stroke="#000" stroke-width="0.55" text-anchor="middle">0</text>
<line x1="2003.8999999999999" y1="612.4" x2="2003.8999999999999" y2="624.4" stroke="#231815" stroke-width="2" />
<text x="2003.8999999999999" y="656.1" font-size="33.7" fill="#000" stroke="#000" stroke-width="0.55" text-anchor="middle">1</text>
<line x1="2123.5" y1="612.4" x2="2123.5" y2="624.4" stroke="#231815" stroke-width="2" />
<text x="2123.5" y="656.1" font-size="33.7" fill="#000" stroke="#000" stroke-width="0.55" text-anchor="middle">2</text>
<line x1="2243.1" y1="612.4" x2="2243.1" y2="624.4" stroke="#231815" stroke-width="2" />
<text x="2243.1" y="656.1" font-size="33.7" fill="#000" stroke="#000" stroke-width="0.55" text-anchor="middle">3</text>
<line x1="2362.7" y1="612.4" x2="2362.7" y2="624.4" stroke="#231815" stroke-width="2" />
<text x="2362.7" y="656.1" font-size="33.7" fill="#000" stroke="#000" stroke-width="0.55" text-anchor="middle">4</text>
<text x="1894" y="405.6" font-size="27.8" fill="#595757" font-weight="bold" font-style="italic" textLength="504" lengthAdjust="spacingAndGlyphs" stroke="#595757" stroke-width="0.5">hydrolase activity, acting on glycosyl bonds</text>
<text x="1894" y="495.8" font-size="27.8" fill="#595757" font-weight="bold" font-style="italic" textLength="229" lengthAdjust="spacingAndGlyphs" stroke="#595757" stroke-width="0.5">nucleic acid binding</text>
<text x="1894" y="588" font-size="27.8" fill="#595757" font-weight="bold" font-style="italic" textLength="144" lengthAdjust="spacingAndGlyphs" stroke="#595757" stroke-width="0.5">DNA binding</text>
<text x="1866" y="475.5" font-size="33.7" fill="#000" stroke="#000" stroke-width="0.55" text-anchor="middle" transform="rotate(-90 1866 475.5)">Down-regulated</text>
<text x="2123" y="692" font-size="33.7" text-anchor="middle" stroke="#000" stroke-width="0.55">-Log<tspan font-size="19.5" dy="11.3">10</tspan><tspan dy="-11.3">(P-value)</tspan></text>
</g>
</svg>
</body></html>
